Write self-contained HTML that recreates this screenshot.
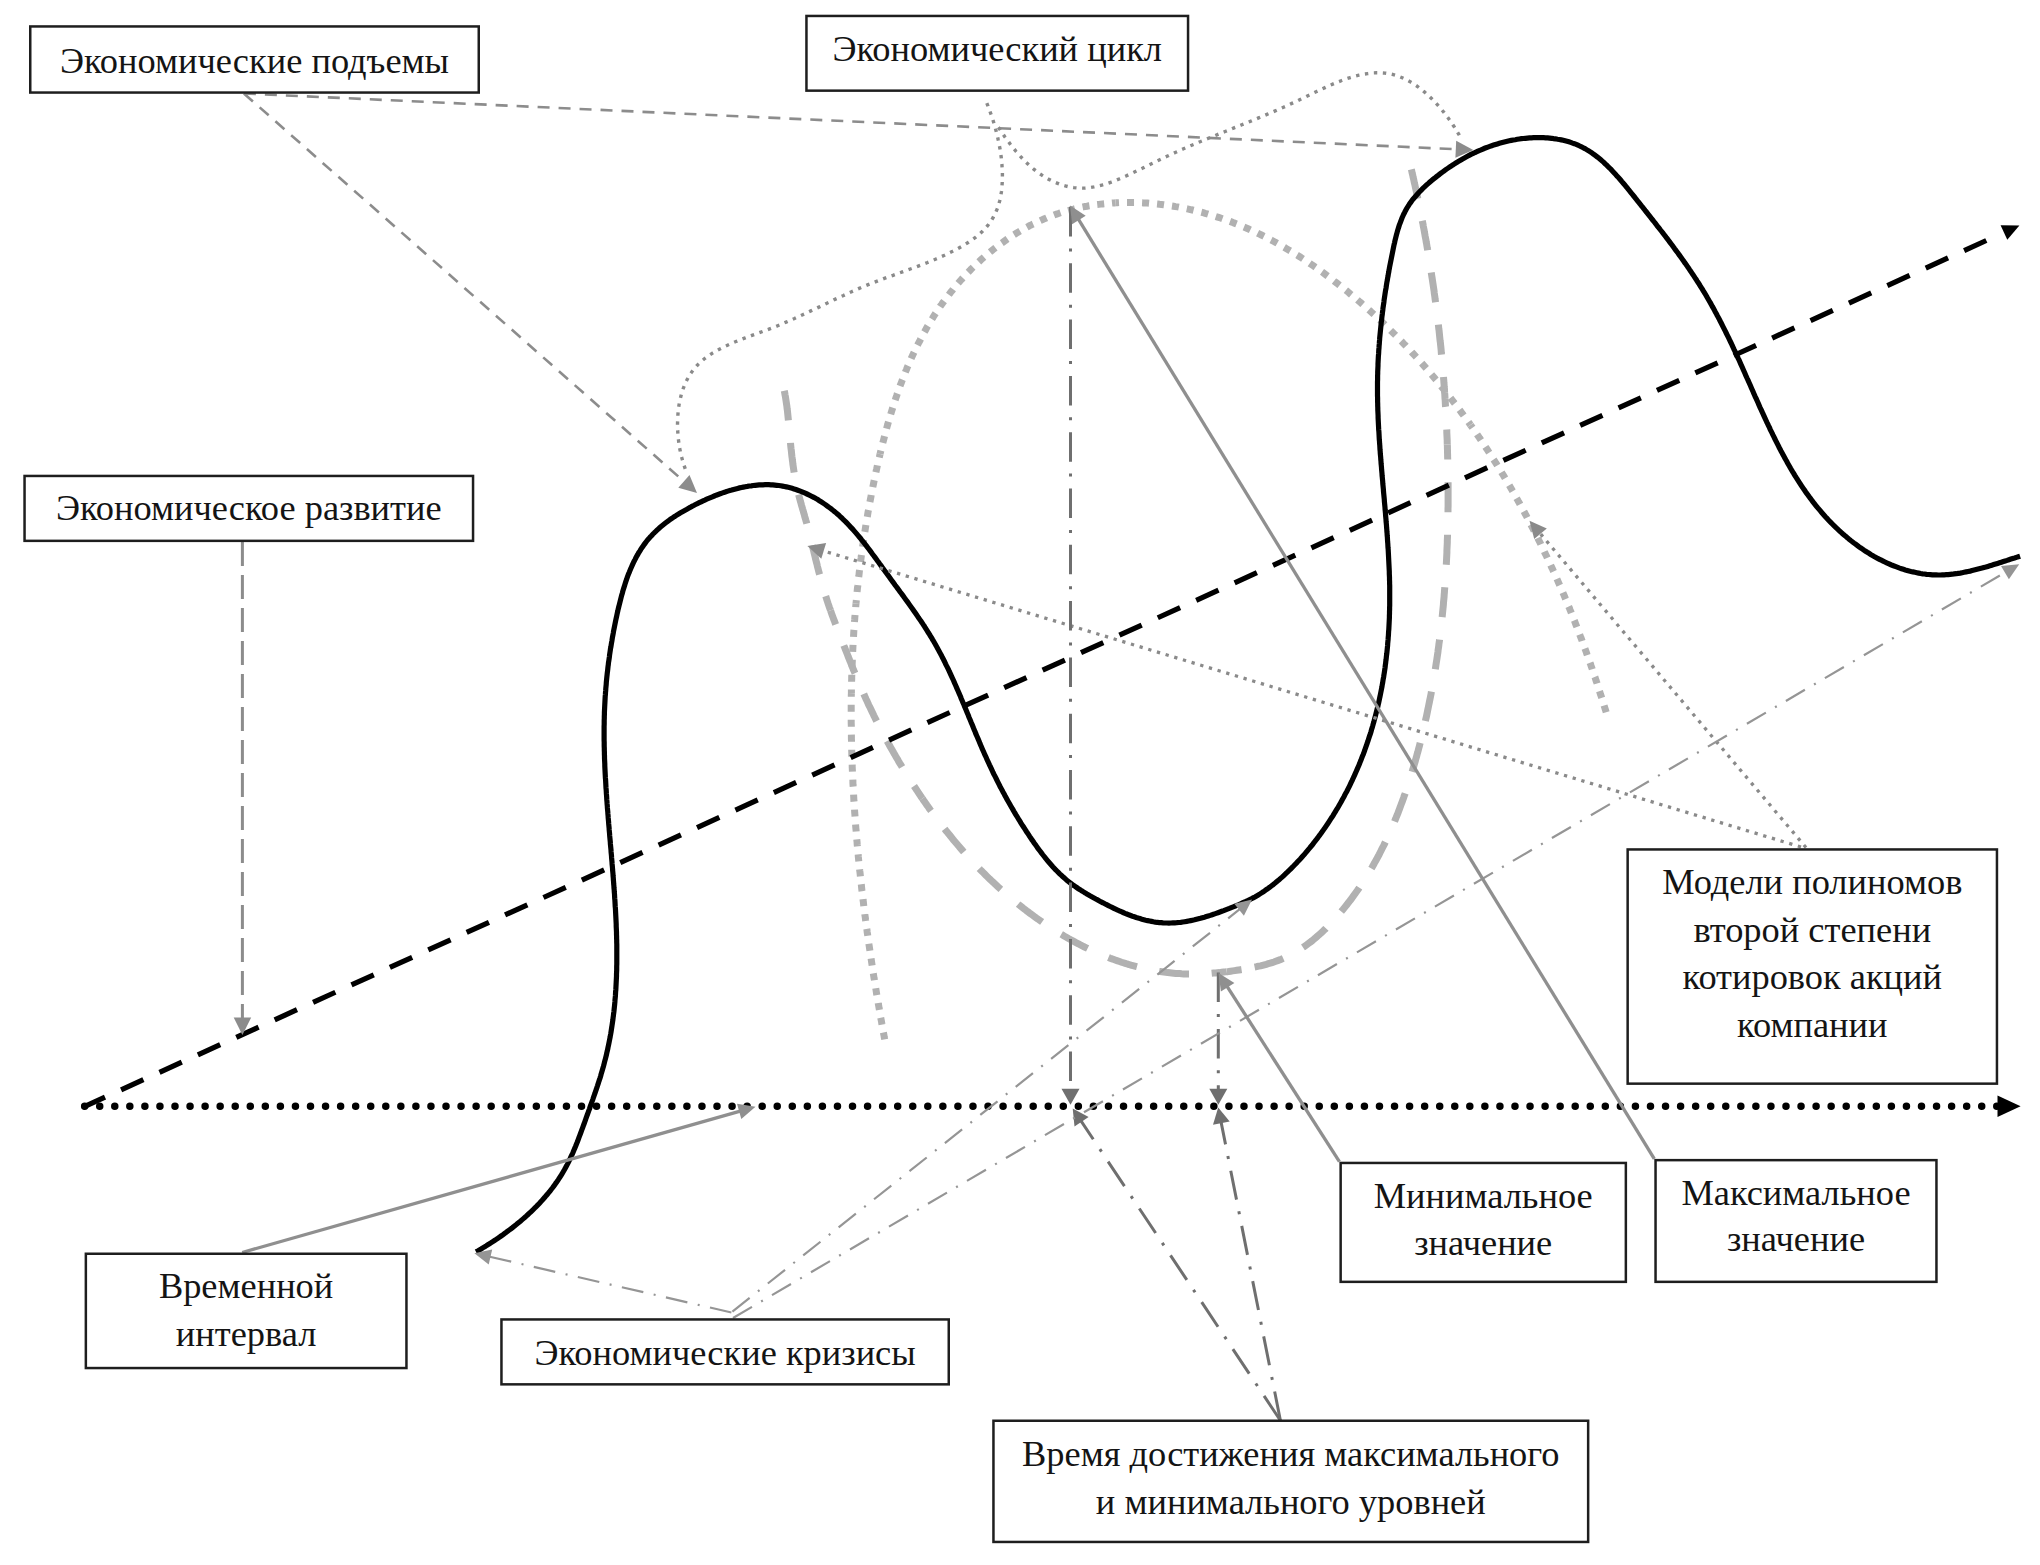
<!DOCTYPE html>
<html><head><meta charset="utf-8"><style>
html,body{margin:0;padding:0;background:#fff;}
svg{display:block;}
text{font-family:"Liberation Serif",serif;font-size:36.4px;fill:#141414;}
</style></head><body>
<svg width="2040" height="1565" viewBox="0 0 2040 1565">
<rect width="2040" height="1565" fill="#fff"/>
<path d="M884.7,1039.4 L884.3,1037.5 L884.0,1035.5 L883.6,1033.5 L883.2,1031.5 L882.9,1029.5 L882.5,1027.5 L882.2,1025.6 L881.8,1023.6 L881.5,1021.6 L881.1,1019.6 L880.7,1017.6 L880.4,1015.6 L880.0,1013.6 L879.7,1011.7 L879.4,1009.7 L879.0,1007.7 L878.7,1005.7 L878.3,1003.7 L878.0,1001.7 L877.6,999.7 L877.3,997.8 L877.0,995.8 L876.6,993.8 L876.3,991.8 L876.0,989.8 L875.7,987.8 L875.3,985.8 L875.0,983.9 L874.7,981.9 L874.4,979.9 L874.0,977.9 L873.7,975.9 L873.4,973.9 L873.1,971.9 L872.8,969.9 L872.5,968.0 L872.2,966.0 L871.9,964.0 L871.6,962.0 L871.3,960.0 L871.0,958.0 L870.7,956.0 L870.4,954.0 L870.1,952.1 L869.8,950.1 L869.5,948.1 L869.2,946.1 L868.9,944.1 L868.6,942.1 L868.3,940.1 L868.1,938.1 L867.8,936.1 L867.5,934.1 L867.2,932.2 L867.0,930.2 L866.7,928.2 L866.4,926.2 L866.2,924.2 L865.9,922.2 L865.6,920.2 L865.4,918.2 L865.1,916.2 L864.8,914.2 L864.6,912.3 L864.3,910.3 L864.1,908.3 L863.8,906.3 L863.6,904.3 L863.4,902.3 L863.1,900.3 L862.9,898.3 L862.6,896.3 L862.4,894.3 L862.2,892.4 L861.9,890.4 L861.7,888.4 L861.5,886.4 L861.3,884.4 L861.0,882.4 L860.8,880.4 L860.6,878.4 L860.4,876.4 L860.2,874.4 L860.0,872.4 L859.7,870.4 L859.5,868.5 L859.3,866.5 L859.1,864.5 L858.9,862.5 L858.7,860.5 L858.5,858.5 L858.3,856.5 L858.2,854.5 L858.0,852.5 L857.8,850.5 L857.6,848.5 L857.4,846.5 L857.2,844.5 L857.1,842.6 L856.9,840.6 L856.7,838.6 L856.6,836.6 L856.4,834.6 L856.2,832.6 L856.1,830.6 L855.9,828.6 L855.7,826.6 L855.6,824.6 L855.4,822.6 L855.3,820.6 L855.1,818.6 L855.0,816.7 L854.9,814.7 L854.7,812.7 L854.6,810.7 L854.5,808.7 L854.3,806.7 L854.2,804.7 L854.1,802.7 L853.9,800.7 L853.8,798.7 L853.7,796.7 L853.6,794.7 L853.5,792.7 L853.4,790.7 L853.3,788.8 L853.2,786.8 L853.0,784.8 L852.9,782.8 L852.9,780.8 L852.8,778.8 L852.7,776.8 L852.6,774.8 L852.5,772.8 L852.4,770.8 L852.3,768.8 L852.2,766.8 L852.2,764.8 L852.1,762.8 L852.0,760.9 L852.0,758.9 L851.9,756.9 L851.8,754.9 L851.8,752.9 L851.7,750.9 L851.7,748.9 L851.6,746.9 L851.6,744.9 L851.5,742.9 L851.5,740.9 L851.4,738.9 L851.4,736.9 L851.4,735.0 L851.3,733.0 L851.3,731.0 L851.3,729.0 L851.3,727.0 L851.3,725.0 L851.2,723.0 L851.2,721.0 L851.2,719.0 L851.2,717.0 L851.2,715.0 L851.2,713.0 L851.2,711.0 L851.2,709.1 L851.2,707.1 L851.2,705.1 L851.2,703.1 L851.3,701.1 L851.3,699.1 L851.3,697.1 L851.3,695.1 L851.4,693.1 L851.4,693.1" fill="none" stroke="#b1b1b1" stroke-width="7" stroke-dasharray="7 8.000" stroke-dashoffset="0.000"/>
<path d="M851.4,693.1 L851.4,691.1 L851.4,689.1 L851.5,687.2 L851.5,685.2 L851.6,683.2 L851.6,681.2 L851.7,679.2 L851.7,677.2 L851.8,675.2 L851.8,673.2 L851.9,671.2 L852.0,669.2 L852.0,667.2 L852.1,665.3 L852.2,663.3 L852.3,661.3 L852.3,659.3 L852.4,657.3 L852.5,655.3 L852.6,653.3 L852.7,651.3 L852.8,649.3 L852.9,647.3 L853.0,645.4 L853.1,643.4 L853.2,641.4 L853.3,639.4 L853.5,637.4 L853.6,635.4 L853.7,633.4 L853.8,631.4 L854.0,629.4 L854.1,627.5 L854.3,625.5 L854.4,623.5 L854.5,621.5 L854.7,619.5 L854.8,617.5 L855.0,615.5 L855.2,613.5 L855.3,611.6 L855.5,609.6 L855.7,607.6 L855.8,605.6 L856.0,603.6 L856.0,603.6" fill="none" stroke="#b1b1b1" stroke-width="7" stroke-dasharray="7 7.943" stroke-dashoffset="3.500"/>
<path d="M856.0,603.6 L856.2,601.6 L856.4,599.6 L856.6,597.6 L856.7,595.7 L856.9,593.7 L857.1,591.7 L857.3,589.7 L857.5,587.7 L857.8,585.7 L858.0,583.7 L858.2,581.8 L858.4,579.8 L858.6,577.8 L858.9,575.8 L859.1,573.8 L859.3,571.8 L859.6,569.8 L859.8,567.9 L860.0,565.9 L860.3,563.9 L860.5,561.9 L860.8,559.9 L861.1,557.9 L861.3,556.0 L861.6,554.0 L861.9,552.0 L862.1,550.0 L862.4,548.0 L862.7,546.0 L863.0,544.1 L863.3,542.1 L863.6,540.1 L863.8,538.1 L864.1,536.1 L864.5,534.1 L864.8,532.2 L865.1,530.2 L865.4,528.2 L865.7,526.2 L866.0,524.2 L866.4,522.3 L866.7,520.3 L867.0,518.3 L867.4,516.3 L867.7,514.3 L868.0,512.4 L868.4,510.4 L868.8,508.4 L869.1,506.4 L869.5,504.4 L869.8,502.5 L870.2,500.5 L870.6,498.5 L871.0,496.5 L871.3,494.5 L871.7,492.6 L872.1,490.6 L872.5,488.6 L872.9,486.6 L873.3,484.7 L873.7,482.7 L874.1,480.7 L874.5,478.7 L875.0,476.7 L875.4,474.8 L875.8,472.8 L876.2,470.8 L876.7,468.8 L877.1,466.9 L877.5,464.9 L878.0,462.9 L878.4,460.9 L878.9,459.0 L879.4,457.0 L879.8,455.0 L880.1,454.0" fill="none" stroke="#b1b1b1" stroke-width="7" stroke-dasharray="7 8.162" stroke-dashoffset="3.500"/>
<path d="M880.1,454.0 L880.5,452.1 L881.0,450.1 L881.5,448.1 L882.0,446.2 L882.5,444.2 L883.0,442.2 L883.5,440.3 L884.0,438.3 L884.5,436.3 L885.0,434.4 L885.5,432.4 L886.1,430.5 L886.6,428.5 L887.1,426.6 L887.7,424.6 L888.2,422.7 L888.8,420.7 L889.4,418.8 L889.9,416.8 L890.5,414.9 L891.1,412.9 L891.7,411.0 L892.3,409.1 L892.9,407.1 L893.5,405.2 L894.1,403.3 L894.8,401.4 L895.4,399.5 L896.0,397.5 L896.7,395.6 L897.3,393.7 L898.0,391.8 L898.7,389.9 L899.3,388.0 L900.0,386.1 L900.7,384.2 L901.4,382.4 L902.1,380.5 L902.9,378.6 L903.6,376.7 L904.3,374.9 L905.1,373.0 L905.8,371.1 L906.6,369.3 L907.3,367.4 L908.1,365.6 L908.9,363.7 L909.7,361.9 L910.5,360.1 L911.3,358.2 L912.1,356.4 L913.0,354.6 L913.8,352.8 L914.7,351.0 L915.5,349.2 L916.4,347.4 L917.3,345.6 L918.2,343.8 L919.1,342.0 L920.0,340.3 L920.9,338.5 L921.8,336.7 L922.8,335.0 L923.7,333.2 L924.7,331.5 L925.7,329.8 L926.6,328.0 L927.6,326.3 L928.6,324.6 L929.7,322.9 L930.7,321.2 L931.7,319.5 L932.8,317.8 L933.8,316.1 L934.9,314.4 L936.0,312.7 L937.1,311.1 L938.2,309.4 L939.3,307.8 L940.4,306.1 L941.6,304.5 L942.7,302.9 L943.9,301.3 L945.1,299.7 L946.2,298.1 L947.4,296.5 L948.7,294.9 L949.9,293.3 L951.1,291.7 L952.4,290.2 L953.6,288.6 L954.9,287.1 L956.2,285.6 L957.5,284.0 L958.8,282.5 L960.1,281.0 L961.4,279.5 L962.8,278.0 L964.1,276.6 L965.5,275.1 L966.8,273.6 L968.2,272.2 L969.6,270.8 L971.0,269.3 L972.4,267.9 L973.9,266.5 L975.3,265.1 L976.7,263.8 L978.2,262.4 L979.6,261.1 L981.1,259.7 L982.6,258.4 L984.1,257.1 L985.6,255.8 L987.1,254.5 L988.6,253.2 L990.2,251.9 L991.7,250.7 L993.3,249.4 L994.8,248.2 L996.4,247.0 L998.0,245.8 L999.6,244.6 L1001.2,243.4 L1002.8,242.3 L1004.4,241.1 L1006.0,240.0 L1007.6,238.9 L1009.3,237.8 L1010.9,236.7 L1012.6,235.6 L1014.3,234.6 L1015.9,233.5 L1017.6,232.5 L1019.3,231.5 L1021.0,230.5 L1022.7,229.5 L1024.5,228.5 L1026.2,227.6 L1027.9,226.7 L1029.6,225.7 L1031.4,224.8 L1033.2,224.0 L1034.9,223.1 L1036.7,222.3 L1038.5,221.4 L1040.3,220.6 L1042.0,219.8 L1043.8,219.0 L1045.7,218.3 L1047.5,217.5 L1049.3,216.8 L1051.1,216.1 L1053.0,215.4 L1054.8,214.7 L1056.6,214.1 L1058.5,213.5 L1060.4,212.8 L1062.2,212.2 L1064.1,211.7 L1066.0,211.1 L1067.9,210.6 L1069.8,210.1 L1071.7,209.5 L1073.6,209.1 L1075.5,208.6 L1077.4,208.1 L1079.3,207.7 L1081.2,207.3 L1083.2,206.9 L1085.1,206.5 L1087.0,206.2 L1089.0,205.8 L1090.9,205.5 L1092.9,205.2 L1094.8,204.9 L1096.8,204.6 L1098.7,204.4 L1100.7,204.1 L1102.7,203.9 L1104.6,203.7 L1106.6,203.5 L1108.6,203.3 L1110.6,203.2 L1112.5,203.0 L1114.5,202.9 L1115.5,202.8" fill="none" stroke="#b1b1b1" stroke-width="7" stroke-dasharray="7 7.861" stroke-dashoffset="3.500"/>
<path d="M1115.5,202.8 L1117.5,202.7 L1119.5,202.6 L1121.5,202.6 L1123.5,202.5 L1125.5,202.5 L1127.5,202.5 L1129.5,202.5 L1131.5,202.5 L1133.5,202.5 L1135.5,202.5 L1137.5,202.6 L1139.5,202.7 L1141.5,202.8 L1143.5,202.9 L1145.5,203.0 L1147.5,203.1 L1149.5,203.3 L1151.5,203.4 L1153.5,203.6 L1155.5,203.8 L1157.5,204.0 L1159.5,204.3 L1161.5,204.5 L1163.5,204.7 L1165.6,205.0 L1167.5,205.3 L1169.5,205.6 L1171.5,205.9 L1173.5,206.2 L1175.5,206.6 L1177.5,206.9 L1179.5,207.3 L1181.5,207.7 L1183.5,208.1 L1185.5,208.5 L1187.4,208.9 L1189.4,209.3 L1191.4,209.8 L1193.4,210.2 L1195.3,210.7 L1197.3,211.2 L1199.3,211.7 L1201.2,212.2 L1203.2,212.7 L1205.1,213.3 L1207.1,213.8 L1209.0,214.4 L1210.9,215.0 L1212.9,215.6 L1214.8,216.2 L1216.7,216.8 L1218.6,217.4 L1220.6,218.0 L1222.5,218.7 L1224.4,219.4 L1226.3,220.0 L1228.2,220.7 L1230.0,221.4 L1231.9,222.1 L1233.8,222.9 L1235.7,223.6 L1237.5,224.3 L1239.4,225.1 L1241.3,225.9 L1243.1,226.6 L1245.0,227.4 L1246.8,228.2 L1248.6,229.0 L1250.5,229.9 L1252.3,230.7 L1254.1,231.5 L1256.0,232.4 L1257.8,233.3 L1259.6,234.1 L1261.4,235.0 L1263.2,235.9 L1265.0,236.8 L1266.8,237.7 L1268.5,238.7 L1270.3,239.6 L1272.1,240.5 L1273.9,241.5 L1275.6,242.4 L1277.4,243.4 L1279.1,244.4 L1280.9,245.4 L1282.6,246.4 L1284.4,247.4 L1286.1,248.4 L1287.8,249.4 L1289.6,250.5 L1291.3,251.5 L1293.0,252.5 L1294.7,253.6 L1296.4,254.7 L1298.1,255.7 L1299.8,256.8 L1301.5,257.9 L1303.2,259.0 L1304.9,260.1 L1306.6,261.2 L1308.2,262.3 L1309.9,263.5 L1311.6,264.6 L1313.2,265.7 L1314.9,266.9 L1316.5,268.0 L1318.2,269.2 L1319.8,270.4 L1321.4,271.5 L1323.1,272.7 L1324.7,273.9 L1326.3,275.1 L1327.9,276.3 L1329.5,277.5 L1331.1,278.7 L1332.7,279.9 L1334.3,281.2 L1335.9,282.4 L1337.5,283.6 L1339.1,284.9 L1340.7,286.1 L1342.3,287.4 L1343.8,288.6 L1345.4,289.9 L1346.9,291.1 L1348.5,292.4 L1350.0,293.7 L1351.6,295.0 L1353.1,296.2 L1354.7,297.5 L1356.2,298.8 L1357.7,300.1 L1359.2,301.4 L1360.8,302.7 L1362.3,304.1 L1363.8,305.4 L1365.3,306.7 L1366.8,308.0 L1368.3,309.4 L1369.8,310.7 L1371.2,312.0 L1372.7,313.4 L1374.2,314.7 L1375.7,316.1 L1377.1,317.4 L1378.6,318.8 L1380.1,320.2 L1381.5,321.5 L1383.0,322.9 L1384.4,324.3 L1385.8,325.7 L1387.3,327.1 L1388.7,328.5 L1390.1,329.9 L1391.5,331.3 L1393.0,332.7 L1394.4,334.1 L1395.8,335.5 L1397.2,336.9 L1398.6,338.3 L1400.0,339.8 L1401.4,341.2 L1402.7,342.6 L1404.1,344.1 L1405.5,345.5 L1406.9,347.0 L1408.2,348.4 L1409.6,349.9 L1411.0,351.3 L1412.3,352.8 L1413.7,354.2 L1415.0,355.7 L1416.4,357.2 L1417.7,358.7 L1419.0,360.2 L1420.3,361.6 L1421.7,363.1 L1423.0,364.6 L1424.3,366.1 L1425.6,367.6 L1426.9,369.1 L1428.2,370.6 L1429.5,372.2 L1430.8,373.7 L1432.1,375.2 L1433.4,376.7 L1434.7,378.3 L1435.9,379.8 L1437.2,381.3 L1438.5,382.9 L1439.7,384.4 L1441.0,385.9 L1442.2,387.5 L1443.5,389.1 L1444.7,390.6 L1446.0,392.2 L1447.2,393.7 L1448.4,395.3 L1449.7,396.9 L1450.9,398.4 L1452.1,400.0 L1453.3,401.6 L1454.5,403.2 L1455.8,404.8 L1457.0,406.4 L1458.2,408.0 L1459.3,409.6 L1460.5,411.2 L1461.7,412.8 L1462.9,414.4 L1464.1,416.0 L1465.3,417.6 L1466.4,419.2 L1467.6,420.8 L1468.8,422.5 L1469.9,424.1 L1470.5,424.9" fill="none" stroke="#b1b1b1" stroke-width="7" stroke-dasharray="7 8.042" stroke-dashoffset="3.500"/>
<path d="M1470.5,424.9 L1471.6,426.5 L1472.8,428.2 L1473.9,429.8 L1475.1,431.5 L1476.2,433.1 L1477.3,434.7 L1478.5,436.4 L1479.6,438.1 L1480.7,439.7 L1481.8,441.4 L1482.9,443.0 L1484.0,444.7 L1485.1,446.4 L1486.2,448.0 L1487.3,449.7 L1488.4,451.4 L1489.5,453.1 L1490.6,454.7 L1491.7,456.4 L1492.7,458.1 L1493.8,459.8 L1494.9,461.5 L1495.9,463.2 L1497.0,464.9 L1498.0,466.6 L1499.1,468.3 L1500.1,470.0 L1501.2,471.7 L1502.2,473.4 L1503.2,475.1 L1504.3,476.9 L1505.3,478.6 L1506.3,480.3 L1507.3,482.0 L1508.4,483.8 L1509.4,485.5 L1510.4,487.2 L1511.4,488.9 L1512.4,490.7 L1513.4,492.4 L1514.4,494.2 L1515.4,495.9 L1516.3,497.7 L1517.3,499.4 L1518.3,501.2 L1519.3,502.9 L1520.2,504.7 L1521.2,506.4 L1522.2,508.2 L1523.1,509.9 L1524.1,511.7 L1525.0,513.5 L1526.0,515.2 L1526.9,517.0 L1527.8,518.8 L1528.8,520.6 L1529.7,522.3 L1530.6,524.1 L1531.5,525.9 L1532.5,527.7 L1533.4,529.5 L1534.3,531.3 L1535.2,533.1 L1536.1,534.8 L1537.0,536.6 L1537.9,538.4 L1538.8,540.2 L1539.7,542.0 L1540.6,543.8 L1541.4,545.6 L1542.3,547.4 L1543.2,549.2 L1544.1,551.1 L1544.9,552.9 L1545.8,554.7 L1546.7,556.5 L1547.5,558.3 L1548.4,560.1 L1549.2,561.9 L1550.1,563.8 L1550.9,565.6 L1551.7,567.4 L1552.6,569.2 L1553.4,571.1 L1554.2,572.9 L1555.1,574.7 L1555.9,576.5 L1556.7,578.4 L1557.5,580.2 L1558.3,582.1 L1559.1,583.9 L1559.9,585.7 L1560.7,587.6 L1561.5,589.4 L1562.3,591.3 L1563.1,593.1 L1563.9,594.9 L1564.7,596.8 L1565.4,598.6 L1566.2,600.5 L1567.0,602.3 L1567.7,604.2 L1568.5,606.1 L1569.3,607.9 L1570.0,609.8 L1570.8,611.6 L1571.5,613.5 L1572.3,615.3 L1573.0,617.2 L1573.7,619.1 L1574.5,620.9 L1575.2,622.8 L1575.9,624.7 L1576.7,626.5 L1577.4,628.4 L1578.1,630.3 L1578.8,632.1 L1579.5,634.0 L1580.2,635.9 L1580.9,637.7 L1581.7,639.6 L1582.3,641.5 L1583.0,643.4 L1583.7,645.2 L1584.4,647.1 L1585.1,649.0 L1585.8,650.9 L1586.5,652.8 L1587.1,654.6 L1587.8,656.5 L1588.5,658.4 L1589.1,660.3 L1589.8,662.2 L1590.5,664.0 L1591.1,665.9 L1591.8,667.8 L1592.4,669.7 L1593.1,671.6 L1593.7,673.5 L1594.3,675.4 L1595.0,677.2 L1595.6,679.1 L1596.2,681.0 L1596.9,682.9 L1597.5,684.8 L1598.1,686.7 L1598.7,688.6 L1599.3,690.5 L1599.9,692.4 L1600.5,694.3 L1601.2,696.2 L1601.8,698.0 L1602.3,699.9 L1602.9,701.8 L1603.5,703.7 L1604.1,705.6 L1604.7,707.5 L1605.3,709.4 L1605.9,711.3 L1606.2,712.3" fill="none" stroke="#b1b1b1" stroke-width="7" stroke-dasharray="7 8.029" stroke-dashoffset="3.500"/>
<path d="M784.3,390.7 L784.7,392.7 L785.0,394.6 L785.4,396.6 L785.7,398.6 L786.0,400.5 L786.3,402.5 L786.6,404.5 L786.9,406.5 L787.1,408.5 L787.4,410.5 L787.6,412.4 L787.8,414.4 L788.0,416.4 L788.2,418.4 L788.4,420.4 L788.6,422.4 L788.8,424.4 L789.0,426.4 L789.2,428.4 L789.4,430.4 L789.5,432.4 L789.7,434.4 L789.9,436.4 L790.1,438.4 L790.3,440.4 L790.5,442.4 L790.6,444.4 L790.8,446.4 L791.0,448.4 L791.3,450.4 L791.5,452.4 L791.7,454.4 L791.9,456.4 L792.2,458.4 L792.4,460.4 L792.7,462.3 L792.9,464.3 L793.2,466.3 L793.5,468.3 L793.8,470.2 L794.1,472.2 L794.4,474.2 L794.8,476.1 L795.1,478.1 L795.5,480.1 L795.9,482.0 L796.2,484.0 L796.6,485.9 L797.1,487.9 L797.5,489.8 L798.0,491.7 L798.4,493.7 L798.9,495.6 L799.4,497.5 L799.9,499.4 L800.4,501.4 L801.0,503.3 L801.5,505.2 L802.1,507.1 L802.6,509.0 L803.2,510.9 L803.7,512.8 L804.3,514.7 L804.8,516.7 L805.4,518.6 L805.9,520.5 L806.5,522.4 L807.0,524.3 L807.5,526.2 L808.0,528.1 L808.5,530.0 L809.0,532.0 L809.5,533.9 L810.0,535.8 L810.4,537.7 L810.9,539.6 L811.4,541.5 L811.8,543.5 L812.3,545.4 L812.8,547.3 L813.2,549.2 L813.7,551.1 L814.1,553.0 L814.6,554.9 L815.1,556.8 L815.5,558.7 L816.0,560.6 L816.5,562.5 L817.0,564.4 L817.4,566.3 L817.9,568.2 L818.4,570.1 L818.9,572.0 L819.4,573.9 L819.9,575.8 L820.4,577.6 L820.9,579.5 L821.4,581.4 L821.9,583.3 L822.5,585.2 L823.0,587.1 L823.5,588.9 L824.1,590.8 L824.7,592.7 L825.2,594.6 L825.8,596.4 L826.4,598.3 L827.0,600.2 L827.6,602.0 L828.2,603.9 L828.9,605.8 L829.5,607.6 L830.2,609.5 L830.5,610.4" fill="none" stroke="#b1b1b1" stroke-width="7" stroke-dasharray="30 22.542" stroke-dashoffset="0.000"/>
<path d="M830.5,610.4 L831.2,612.3 L831.8,614.2 L832.5,616.0 L833.2,617.9 L833.9,619.8 L834.6,621.6 L835.3,623.5 L836.0,625.3 L836.7,627.2 L837.4,629.1 L838.1,630.9 L838.8,632.8 L839.6,634.6 L840.3,636.5 L841.0,638.3 L841.7,640.2 L842.5,642.1 L843.2,643.9 L843.9,645.8 L844.7,647.6 L845.4,649.5 L846.1,651.3 L846.9,653.2 L847.6,655.0 L848.3,656.9 L849.1,658.8 L849.8,660.6 L850.6,662.5 L851.3,664.3 L852.0,666.2 L852.8,668.0 L853.5,669.9 L854.3,671.7 L855.1,673.5 L855.8,675.4 L856.6,677.2 L857.3,679.1 L858.1,680.9 L858.9,682.7 L859.7,684.6 L860.5,686.4 L861.3,688.3 L862.0,690.1 L862.8,691.9 L863.7,693.7 L864.5,695.6 L865.3,697.4 L866.1,699.2 L867.0,701.0 L867.8,702.8 L868.6,704.7 L869.5,706.5 L870.4,708.3 L871.2,710.1 L872.1,711.9 L873.0,713.7 L873.8,715.5 L874.7,717.3 L875.6,719.1 L876.5,720.9 L877.4,722.7 L878.3,724.5 L879.3,726.2 L880.2,728.0 L881.1,729.8 L882.0,731.6 L883.0,733.4 L883.9,735.1 L884.9,736.9 L885.8,738.7 L886.8,740.4 L887.8,742.2 L888.7,743.9 L889.7,745.7 L890.7,747.5 L891.7,749.2 L892.7,750.9 L893.7,752.7 L894.7,754.4 L895.7,756.2 L896.7,757.9 L897.7,759.6 L898.7,761.4 L899.7,763.1 L900.8,764.8 L901.8,766.5 L902.8,768.2 L903.9,770.0 L904.9,771.7 L906.0,773.4 L907.0,775.1 L908.1,776.8 L909.2,778.5 L910.2,780.2 L911.3,781.9 L912.4,783.5 L913.5,785.2 L914.6,786.9 L915.7,788.6 L916.8,790.2 L917.9,791.9 L919.0,793.6 L920.1,795.2 L921.2,796.9 L922.4,798.5 L922.4,798.5" fill="none" stroke="#b1b1b1" stroke-width="7" stroke-dasharray="30 22.487" stroke-dashoffset="15.000"/>
<path d="M922.4,798.5 L923.5,800.2 L924.6,801.8 L925.8,803.5 L926.9,805.1 L928.1,806.7 L929.2,808.4 L930.4,810.0 L931.6,811.6 L932.7,813.2 L933.9,814.8 L935.1,816.4 L936.3,818.0 L937.5,819.6 L938.7,821.2 L939.9,822.8 L941.1,824.4 L942.3,826.0 L943.5,827.5 L944.8,829.1 L946.0,830.7 L947.3,832.2 L948.5,833.8 L949.8,835.3 L951.0,836.9 L952.3,838.4 L953.5,840.0 L954.8,841.5 L956.1,843.0 L957.4,844.5 L958.7,846.1 L960.0,847.6 L961.3,849.1 L962.6,850.6 L963.9,852.1 L965.2,853.5 L966.5,855.0 L967.9,856.5 L969.2,858.0 L970.6,859.4 L971.9,860.9 L973.3,862.4 L974.6,863.8 L976.0,865.3 L977.4,866.7 L978.8,868.1 L980.2,869.6 L981.6,871.0 L983.0,872.4 L984.4,873.8 L985.8,875.2 L987.2,876.6 L988.6,878.0 L990.1,879.4 L991.5,880.7 L993.0,882.1 L994.4,883.5 L995.9,884.8 L997.3,886.2 L998.8,887.5 L1000.3,888.9 L1001.8,890.2 L1003.3,891.6 L1004.8,892.9 L1006.3,894.2 L1007.8,895.5 L1009.3,896.8 L1010.9,898.1 L1012.4,899.4 L1013.9,900.7 L1015.5,901.9 L1017.0,903.2 L1018.6,904.5 L1020.2,905.7 L1021.8,907.0 L1023.3,908.2 L1024.9,909.4 L1026.5,910.7 L1028.1,911.9 L1029.7,913.1 L1031.4,914.3 L1033.0,915.5 L1034.6,916.7 L1036.2,917.9 L1037.9,919.0 L1039.5,920.2 L1041.2,921.3 L1042.9,922.5 L1044.5,923.6 L1046.2,924.7 L1047.9,925.9 L1049.6,927.0 L1051.3,928.1 L1053.0,929.1 L1054.7,930.2 L1056.4,931.3 L1058.1,932.4 L1059.8,933.4 L1061.6,934.4 L1063.3,935.5 L1065.0,936.5 L1066.8,937.5 L1068.5,938.5 L1070.3,939.5 L1072.0,940.5 L1073.8,941.4 L1075.6,942.4 L1077.4,943.3 L1079.1,944.2 L1080.9,945.2 L1082.7,946.1 L1084.5,947.0 L1086.3,947.8 L1088.1,948.7 L1089.9,949.6 L1091.8,950.4 L1093.6,951.2 L1095.4,952.1 L1097.2,952.9 L1099.1,953.7 L1100.9,954.5 L1102.8,955.2 L1104.6,956.0 L1106.5,956.7 L1108.3,957.4 L1110.2,958.2 L1112.1,958.9 L1113.9,959.5 L1115.8,960.2 L1117.7,960.9 L1119.6,961.5 L1121.5,962.2 L1123.3,962.8 L1125.2,963.4 L1127.1,964.0 L1129.0,964.5 L1130.9,965.1 L1132.9,965.6 L1134.8,966.1 L1136.7,966.6 L1138.6,967.1 L1140.5,967.6 L1142.5,968.1 L1144.4,968.5 L1146.3,969.0 L1148.3,969.4 L1150.2,969.8 L1152.1,970.1 L1154.1,970.5 L1156.0,970.9 L1158.0,971.2 L1159.9,971.5 L1161.9,971.8 L1163.9,972.1 L1165.8,972.3 L1167.8,972.6 L1169.8,972.8 L1171.7,973.0 L1173.7,973.2 L1175.7,973.4 L1177.7,973.5 L1179.6,973.6 L1181.6,973.8 L1183.6,973.9 L1185.6,973.9 L1187.6,974.0 L1189.6,974.0 L1191.6,974.1 L1193.6,974.1 L1195.6,974.0 L1197.6,974.0 L1199.6,974.0 L1201.6,973.9 L1203.6,973.8 L1205.6,973.7 L1207.6,973.6 L1209.6,973.4 L1211.6,973.3 L1213.6,973.1 L1215.6,973.0 L1217.6,972.8 L1219.6,972.6 L1221.7,972.3 L1223.7,972.1 L1225.7,971.9 L1226.7,971.7" fill="none" stroke="#b1b1b1" stroke-width="7" stroke-dasharray="30 22.686" stroke-dashoffset="15.000"/>
<path d="M1226.7,971.7 L1228.7,971.5 L1230.7,971.2 L1232.7,970.9 L1234.7,970.6 L1236.7,970.3 L1238.7,970.0 L1240.7,969.7 L1242.7,969.4 L1244.7,969.0 L1246.7,968.7 L1248.7,968.3 L1250.7,967.9 L1252.6,967.5 L1254.6,967.1 L1254.6,967.1" fill="none" stroke="#b1b1b1" stroke-width="7" stroke-dasharray="30 13.338" stroke-dashoffset="15.000"/>
<path d="M1254.6,967.1 L1256.6,966.7 L1258.6,966.2 L1260.5,965.8 L1262.5,965.3 L1264.4,964.8 L1266.3,964.3 L1268.3,963.7 L1270.2,963.2 L1272.1,962.6 L1274.0,962.0 L1275.8,961.3 L1277.7,960.6 L1279.6,959.9 L1281.4,959.2 L1283.2,958.4 L1285.0,957.6 L1286.8,956.8 L1288.6,955.9 L1290.3,955.0 L1292.1,954.1 L1293.8,953.1 L1295.5,952.2 L1297.2,951.1 L1298.9,950.1 L1300.6,949.0 L1302.2,947.9 L1303.9,946.8 L1305.5,945.7 L1307.1,944.5 L1308.7,943.3 L1310.3,942.1 L1311.9,940.9 L1313.4,939.6 L1315.0,938.3 L1316.5,937.0 L1318.0,935.7 L1319.5,934.4 L1321.0,933.0 L1322.5,931.7 L1323.9,930.3 L1325.4,928.9 L1326.8,927.4 L1328.2,926.0 L1329.6,924.6 L1331.0,923.1 L1332.4,921.6 L1333.8,920.1 L1335.1,918.6 L1336.5,917.1 L1337.8,915.6 L1339.1,914.1 L1340.4,912.6 L1341.7,911.0 L1343.0,909.5 L1344.3,907.9 L1345.5,906.4 L1346.8,904.8 L1348.0,903.2 L1349.2,901.6 L1350.5,900.0 L1351.7,898.4 L1352.8,896.8 L1354.0,895.2 L1355.2,893.6 L1356.3,891.9 L1357.5,890.3 L1358.6,888.7 L1359.7,887.0 L1360.9,885.4 L1362.0,883.7 L1363.0,882.0 L1364.1,880.4 L1365.2,878.7 L1366.2,877.0 L1367.3,875.3 L1368.3,873.6 L1369.4,871.9 L1370.4,870.2 L1371.4,868.5 L1372.4,866.8 L1373.4,865.0 L1374.3,863.3 L1375.3,861.6 L1376.3,859.8 L1377.2,858.1 L1378.2,856.3 L1379.1,854.6 L1380.0,852.8 L1380.9,851.0 L1381.8,849.2 L1382.7,847.5 L1383.6,845.7 L1384.5,843.9 L1385.3,842.1 L1386.2,840.3 L1387.0,838.5 L1387.9,836.7 L1388.7,834.9 L1389.5,833.1 L1390.3,831.3 L1391.1,829.4 L1391.9,827.6 L1392.7,825.8 L1393.5,824.0 L1394.3,822.1 L1395.0,820.3 L1395.8,818.4 L1396.5,816.6 L1397.3,814.7 L1398.0,812.9 L1398.7,811.0 L1399.4,809.2 L1400.1,807.3 L1400.8,805.4 L1401.5,803.6 L1402.2,801.7 L1402.9,799.8 L1403.6,797.9 L1404.2,796.0 L1404.9,794.2 L1405.6,792.3 L1406.2,790.4 L1406.8,788.5 L1407.5,786.6 L1408.1,784.7 L1408.7,782.8 L1409.3,780.9 L1409.9,779.0 L1410.5,777.1 L1411.1,775.2 L1411.7,773.3 L1412.3,771.3 L1412.9,769.4 L1413.4,767.5 L1414.0,765.6 L1414.5,763.7 L1415.1,761.7 L1415.6,759.8 L1416.2,757.9 L1416.7,756.0 L1417.2,754.0 L1417.8,752.1 L1418.3,750.2 L1418.8,748.2 L1419.3,746.3 L1419.8,744.4 L1420.3,742.4 L1420.8,740.5 L1421.3,738.6 L1421.7,736.6 L1422.2,734.7 L1422.7,732.7 L1423.1,730.8 L1423.6,728.8 L1424.1,726.9 L1424.5,724.9 L1425.0,723.0 L1425.4,721.0 L1425.8,719.1 L1426.3,717.1 L1426.7,715.2 L1427.1,713.2 L1427.5,711.3 L1427.9,709.3 L1428.3,707.4 L1428.7,705.4 L1429.1,703.5 L1429.5,701.5 L1429.9,699.5 L1430.3,697.6 L1430.7,695.6 L1431.1,693.7 L1431.4,691.7 L1431.8,689.7 L1432.1,687.8 L1432.5,685.8 L1432.9,683.8 L1433.2,681.9 L1433.5,679.9 L1433.9,677.9 L1434.2,675.9 L1434.5,674.0 L1434.9,672.0 L1435.2,670.0 L1435.5,668.1 L1435.8,666.1 L1436.1,664.1 L1436.4,662.1 L1436.7,660.2 L1437.0,658.2 L1437.3,656.2 L1437.6,654.2 L1437.9,652.2 L1438.1,650.3 L1438.4,648.3 L1438.7,646.3 L1438.9,644.3 L1439.2,642.3 L1439.5,640.4 L1439.7,638.4 L1440.0,636.4 L1440.2,634.4 L1440.4,632.4 L1440.7,630.4 L1440.9,628.4 L1441.1,626.5 L1441.3,624.5 L1441.6,622.5 L1441.8,620.5 L1442.0,618.5 L1442.2,616.5 L1442.4,614.5 L1442.6,612.5 L1442.8,610.5 L1443.0,608.5 L1443.2,606.6 L1443.4,604.6 L1443.5,602.6 L1443.7,600.6 L1443.9,598.6 L1444.1,596.6 L1444.2,594.6 L1444.4,592.6 L1444.5,590.6 L1444.7,588.6 L1444.8,586.6 L1445.0,584.6 L1445.1,582.6 L1445.3,580.6 L1445.4,578.6 L1445.5,576.6 L1445.7,574.6 L1445.8,572.6 L1445.9,570.6 L1446.0,568.6 L1446.1,566.6 L1446.3,564.6 L1446.4,562.6 L1446.5,560.6 L1446.6,558.6 L1446.7,556.6 L1446.8,554.6 L1446.9,552.6 L1446.9,550.6 L1447.0,548.6 L1447.1,546.6 L1447.2,544.6 L1447.3,542.6 L1447.3,540.6 L1447.4,538.6 L1447.5,536.6 L1447.5,534.6 L1447.6,532.6 L1447.6,530.6 L1447.7,528.6 L1447.7,526.6 L1447.8,524.6 L1447.8,522.6 L1447.9,520.6 L1447.9,518.6 L1447.9,516.6 L1448.0,514.6 L1448.0,512.5 L1448.0,510.5 L1448.0,508.5 L1448.1,506.5 L1448.1,504.5 L1448.1,502.5 L1448.1,500.5 L1448.1,498.5 L1448.1,496.5 L1448.1,494.5 L1448.1,492.5 L1448.1,490.5 L1448.1,488.5 L1448.1,486.5 L1448.1,484.5 L1448.1,482.5 L1448.1,480.5 L1448.0,478.5 L1448.0,476.5 L1448.0,474.5 L1448.0,472.5 L1447.9,470.5 L1447.9,468.5 L1447.9,466.5 L1447.8,464.5 L1447.8,462.5 L1447.7,460.5 L1447.7,458.5 L1447.6,456.5 L1447.6,454.5 L1447.5,452.5 L1447.5,450.5 L1447.4,448.5 L1447.4,446.5 L1447.3,444.5 L1447.3,444.5" fill="none" stroke="#b1b1b1" stroke-width="7" stroke-dasharray="30 22.605" stroke-dashoffset="0.000"/>
<path d="M1447.3,444.5 L1447.2,442.5 L1447.2,440.5 L1447.1,438.5 L1447.0,436.5 L1446.9,434.5 L1446.8,432.5 L1446.8,430.5 L1446.7,428.5 L1446.6,426.5 L1446.5,424.5 L1446.4,422.5 L1446.3,420.5 L1446.2,418.5 L1446.1,416.5 L1446.0,414.5 L1445.9,412.5 L1445.8,410.5 L1445.7,408.5 L1445.5,406.5 L1445.4,404.5 L1445.3,402.5 L1445.2,400.5 L1445.0,398.5 L1444.9,396.5 L1444.8,394.5 L1444.6,392.5 L1444.5,390.5 L1444.4,388.6 L1444.2,386.6 L1444.1,384.6 L1443.9,382.6 L1443.8,380.6 L1443.6,378.6 L1443.5,376.6 L1443.3,374.6 L1443.1,372.6 L1443.0,370.6 L1442.8,368.6 L1442.6,366.6 L1442.5,364.6 L1442.3,362.7 L1442.1,360.7 L1441.9,358.7 L1441.7,356.7 L1441.5,354.7 L1441.3,352.7 L1441.2,350.7 L1441.0,348.7 L1440.8,346.7 L1440.6,344.8 L1440.4,342.8 L1440.1,340.8 L1439.9,338.8 L1439.7,336.8 L1439.5,334.8 L1439.3,332.8 L1439.1,330.8 L1438.8,328.9 L1438.6,326.9 L1438.4,324.9 L1438.2,322.9 L1437.9,320.9 L1437.7,318.9 L1437.4,317.0 L1437.2,315.0 L1436.9,313.0 L1436.7,311.0 L1436.4,309.0 L1436.2,307.0 L1435.9,305.1 L1435.7,303.1 L1435.4,301.1 L1435.1,299.1 L1434.9,297.1 L1434.6,295.2 L1434.3,293.2 L1434.1,291.2 L1433.8,289.2 L1433.5,287.2 L1433.2,285.3 L1432.9,283.3 L1432.6,281.3 L1432.3,279.3 L1432.0,277.4 L1431.7,275.4 L1431.4,273.4 L1431.1,271.4 L1430.8,269.4 L1430.5,267.5 L1430.2,265.5 L1429.9,263.5 L1429.6,261.6 L1429.2,259.6 L1428.9,257.6 L1428.6,255.6 L1428.3,253.7 L1427.9,251.7 L1427.6,249.7 L1427.2,247.7 L1426.9,245.8 L1426.6,243.8 L1426.2,241.8 L1425.9,239.9 L1425.5,237.9 L1425.1,235.9 L1424.8,234.0 L1424.4,232.0 L1424.1,230.0 L1423.7,228.1 L1423.3,226.1 L1423.0,224.1 L1422.6,222.2 L1422.2,220.2 L1421.8,218.2 L1421.4,216.3 L1421.0,214.3 L1420.7,212.3 L1420.3,210.4 L1419.9,208.4 L1419.5,206.5 L1419.1,204.5 L1418.7,202.5 L1418.2,200.6 L1417.8,198.6 L1417.4,196.7 L1417.0,194.7 L1416.6,192.7 L1416.2,190.8 L1415.7,188.8 L1415.3,186.9 L1414.9,184.9 L1414.4,182.9 L1414.0,181.0 L1413.6,179.0 L1413.1,177.1 L1412.7,175.1 L1412.2,173.2 L1411.8,171.2 L1411.3,169.3 L1411.3,169.3" fill="none" stroke="#b1b1b1" stroke-width="7" stroke-dasharray="30 22.597" stroke-dashoffset="15.000"/>
<line x1="84.66" y1="1106.3" x2="1997.5" y2="1106.3" stroke="#000" stroke-width="7.5" stroke-linecap="round" stroke-dasharray="0 15.056"/>
<path d="M2020.6,1106.3 L1997.5,1095.6 L1997.5,1117 Z" fill="#000"/>
<line x1="82.7" y1="1107.3" x2="1986.3" y2="240.5" stroke="#000" stroke-width="5.2" stroke-dasharray="24.5 17.69"/>
<path d="M2019.4,225.4 L2007.3,239.7 L2000.6,225.2 Z" fill="#000"/>
<path id="curve" d="M476.0,1251.9 L477.7,1251.0 L479.4,1250.0 L481.1,1249.0 L482.8,1247.9 L484.4,1246.9 L486.1,1245.9 L487.8,1244.8 L489.5,1243.8 L491.2,1242.7 L492.8,1241.6 L494.5,1240.5 L496.2,1239.4 L497.8,1238.3 L499.5,1237.1 L501.1,1236.0 L502.8,1234.8 L504.4,1233.6 L506.1,1232.4 L507.7,1231.2 L509.3,1230.0 L510.9,1228.8 L512.5,1227.6 L514.1,1226.3 L515.7,1225.1 L517.2,1223.8 L518.8,1222.5 L520.4,1221.2 L521.9,1219.9 L523.4,1218.6 L525.0,1217.2 L526.5,1215.9 L528.0,1214.5 L529.4,1213.2 L530.9,1211.8 L532.4,1210.4 L533.8,1209.0 L535.2,1207.5 L536.7,1206.1 L538.1,1204.7 L539.5,1203.2 L540.8,1201.7 L542.2,1200.3 L543.5,1198.8 L544.8,1197.3 L546.1,1195.7 L547.4,1194.2 L548.7,1192.7 L550.0,1191.1 L551.2,1189.5 L552.4,1188.0 L553.6,1186.4 L554.8,1184.8 L555.9,1183.1 L557.1,1181.5 L558.2,1179.9 L559.3,1178.2 L560.3,1176.6 L561.4,1174.9 L562.4,1173.2 L563.4,1171.5 L564.4,1169.8 L565.4,1168.0 L566.3,1166.3 L567.2,1164.6 L568.1,1162.8 L569.0,1161.0 L569.9,1159.2 L570.7,1157.4 L571.5,1155.7 L572.4,1153.8 L573.2,1152.0 L573.9,1150.2 L574.7,1148.4 L575.5,1146.5 L576.2,1144.7 L577.0,1142.8 L577.7,1141.0 L578.4,1139.1 L579.1,1137.2 L579.8,1135.4 L580.5,1133.5 L581.2,1131.6 L581.9,1129.7 L582.6,1127.8 L583.3,1125.9 L584.0,1124.0 L584.7,1122.1 L585.4,1120.2 L586.0,1118.3 L586.7,1116.4 L587.4,1114.5 L588.1,1112.6 L588.8,1110.7 L589.5,1108.8 L590.1,1106.9 L590.8,1105.0 L591.5,1103.1 L592.2,1101.2 L592.9,1099.3 L593.5,1097.3 L594.2,1095.4 L594.9,1093.5 L595.5,1091.6 L596.2,1089.7 L596.8,1087.8 L597.5,1085.8 L598.1,1083.9 L598.7,1082.0 L599.3,1080.1 L600.0,1078.1 L600.6,1076.2 L601.1,1074.3 L601.7,1072.3 L602.3,1070.4 L602.8,1068.5 L603.4,1066.5 L603.9,1064.6 L604.4,1062.7 L604.9,1060.7 L605.4,1058.8 L605.9,1056.8 L606.4,1054.9 L606.8,1052.9 L607.3,1051.0 L607.7,1049.1 L608.1,1047.1 L608.5,1045.2 L608.9,1043.2 L609.3,1041.2 L609.7,1039.3 L610.1,1037.3 L610.4,1035.4 L610.8,1033.4 L611.1,1031.5 L611.4,1029.5 L611.7,1027.5 L612.0,1025.6 L612.3,1023.6 L612.6,1021.6 L612.9,1019.7 L613.1,1017.7 L613.4,1015.7 L613.6,1013.8 L613.9,1011.8 L614.1,1009.8 L614.3,1007.8 L614.5,1005.9 L614.7,1003.9 L614.9,1001.9 L615.0,999.9 L615.2,998.0 L615.4,996.0 L615.5,994.0 L615.6,992.0 L615.8,990.0 L615.9,988.1 L616.0,986.1 L616.1,984.1 L616.2,982.1 L616.3,980.1 L616.4,978.1 L616.5,976.1 L616.5,974.2 L616.6,972.2 L616.7,970.2 L616.7,968.2 L616.7,966.2 L616.8,964.2 L616.8,962.2 L616.8,960.2 L616.8,958.2 L616.8,956.2 L616.8,954.2 L616.8,952.2 L616.8,950.2 L616.8,948.2 L616.8,946.2 L616.8,944.2 L616.7,942.2 L616.7,940.2 L616.6,938.2 L616.6,936.2 L616.5,934.2 L616.5,932.2 L616.4,930.2 L616.3,928.2 L616.2,926.2 L616.2,924.2 L616.1,922.2 L616.0,920.2 L615.9,918.2 L615.8,916.2 L615.7,914.2 L615.6,912.2 L615.5,910.2 L615.4,908.2 L615.2,906.2 L615.1,904.2 L615.0,902.2 L614.9,900.2 L614.7,898.2 L614.6,896.2 L614.5,894.1 L614.3,892.1 L614.2,890.1 L614.0,888.1 L613.9,886.1 L613.7,884.1 L613.6,882.1 L613.4,880.1 L613.3,878.1 L613.1,876.1 L613.0,874.1 L612.8,872.1 L612.6,870.1 L612.5,868.1 L612.3,866.0 L612.1,864.0 L612.0,862.0 L611.8,860.0 L611.6,858.0 L611.5,856.0 L611.3,854.0 L611.1,852.0 L611.0,850.0 L610.8,848.0 L610.6,846.0 L610.4,844.0 L610.3,842.0 L610.1,840.0 L609.9,838.0 L609.7,835.9 L609.6,833.9 L609.4,831.9 L609.2,829.9 L609.1,827.9 L608.9,825.9 L608.7,823.9 L608.6,821.9 L608.4,819.9 L608.2,817.9 L608.1,815.9 L607.9,813.9 L607.8,811.9 L607.6,809.9 L607.4,807.9 L607.3,805.9 L607.1,803.9 L607.0,801.9 L606.8,799.9 L606.7,797.9 L606.6,795.9 L606.4,793.9 L606.3,791.9 L606.2,790.0 L606.0,788.0 L605.9,786.0 L605.8,784.0 L605.7,782.0 L605.6,780.0 L605.4,778.0 L605.3,776.0 L605.2,774.0 L605.1,772.0 L605.0,770.0 L604.9,768.0 L604.8,766.0 L604.8,764.1 L604.7,762.1 L604.6,760.1 L604.5,758.1 L604.5,756.1 L604.4,754.1 L604.4,752.1 L604.3,750.1 L604.3,748.1 L604.2,746.2 L604.2,744.2 L604.2,742.2 L604.1,740.2 L604.1,738.2 L604.1,736.2 L604.1,734.2 L604.1,732.2 L604.1,730.3 L604.1,728.3 L604.1,726.3 L604.2,724.3 L604.2,722.3 L604.2,720.3 L604.3,718.3 L604.3,716.4 L604.4,714.4 L604.4,712.4 L604.5,710.4 L604.6,708.4 L604.7,706.4 L604.8,704.4 L604.9,702.5 L605.0,700.5 L605.1,698.5 L605.2,696.5 L605.4,694.5 L605.5,692.5 L605.7,690.5 L605.8,688.6 L606.0,686.6 L606.2,684.6 L606.3,682.6 L606.5,680.6 L606.7,678.6 L606.9,676.6 L607.1,674.7 L607.3,672.7 L607.6,670.7 L607.8,668.7 L608.0,666.7 L608.3,664.7 L608.5,662.7 L608.8,660.8 L609.1,658.8 L609.4,656.8 L609.6,654.8 L609.9,652.8 L610.2,650.8 L610.5,648.8 L610.9,646.8 L611.2,644.8 L611.5,642.9 L611.9,640.9 L612.2,638.9 L612.5,636.9 L612.9,634.9 L613.3,632.9 L613.6,630.9 L614.0,628.9 L614.4,626.9 L614.8,625.0 L615.2,623.0 L615.6,621.0 L616.0,619.0 L616.5,617.0 L616.9,615.0 L617.3,613.0 L617.8,611.0 L618.2,609.0 L618.7,607.0 L619.2,605.1 L619.7,603.1 L620.2,601.1 L620.7,599.1 L621.2,597.2 L621.7,595.2 L622.3,593.2 L622.8,591.3 L623.4,589.3 L624.0,587.4 L624.6,585.4 L625.2,583.5 L625.8,581.6 L626.5,579.7 L627.1,577.8 L627.8,575.9 L628.5,574.1 L629.3,572.2 L630.0,570.4 L630.8,568.5 L631.6,566.7 L632.4,564.9 L633.2,563.1 L634.1,561.3 L635.0,559.6 L635.9,557.8 L636.8,556.1 L637.8,554.4 L638.7,552.7 L639.8,551.1 L640.8,549.4 L641.9,547.8 L643.0,546.2 L644.1,544.6 L645.2,543.1 L646.4,541.5 L647.6,540.0 L648.9,538.6 L650.2,537.1 L651.5,535.7 L652.8,534.2 L654.2,532.9 L655.6,531.5 L657.0,530.2 L658.5,528.8 L659.9,527.5 L661.4,526.3 L663.0,525.0 L664.5,523.8 L666.1,522.5 L667.7,521.3 L669.3,520.2 L670.9,519.0 L672.6,517.9 L674.3,516.7 L676.0,515.6 L677.7,514.6 L679.4,513.5 L681.1,512.4 L682.9,511.4 L684.7,510.4 L686.5,509.4 L688.2,508.4 L690.1,507.4 L691.9,506.4 L693.7,505.5 L695.5,504.5 L697.4,503.6 L699.2,502.7 L701.1,501.8 L703.0,500.9 L704.8,500.1 L706.7,499.2 L708.6,498.4 L710.5,497.6 L712.4,496.8 L714.3,496.0 L716.2,495.2 L718.2,494.5 L720.1,493.8 L722.0,493.1 L723.9,492.4 L725.9,491.8 L727.8,491.1 L729.8,490.5 L731.7,490.0 L733.7,489.4 L735.6,488.9 L737.6,488.4 L739.5,487.9 L741.5,487.5 L743.4,487.1 L745.4,486.7 L747.4,486.4 L749.3,486.0 L751.3,485.8 L753.3,485.5 L755.2,485.3 L757.2,485.1 L759.1,484.9 L761.1,484.8 L763.1,484.8 L765.0,484.7 L767.0,484.7 L768.9,484.7 L770.9,484.8 L772.8,484.9 L774.8,485.1 L776.7,485.3 L778.7,485.5 L780.6,485.8 L782.5,486.1 L784.5,486.5 L786.4,486.9 L788.3,487.3 L790.2,487.8 L792.1,488.3 L794.0,488.9 L795.9,489.5 L797.8,490.2 L799.6,490.9 L801.5,491.6 L803.4,492.4 L805.2,493.2 L807.0,494.0 L808.8,494.8 L810.6,495.7 L812.4,496.7 L814.2,497.6 L815.9,498.6 L817.7,499.6 L819.4,500.7 L821.1,501.7 L822.8,502.8 L824.5,504.0 L826.1,505.1 L827.7,506.3 L829.3,507.5 L830.9,508.7 L832.5,509.9 L834.0,511.2 L835.6,512.4 L837.1,513.7 L838.6,515.0 L840.0,516.4 L841.5,517.7 L842.9,519.1 L844.4,520.5 L845.8,521.9 L847.2,523.3 L848.5,524.7 L849.9,526.2 L851.2,527.7 L852.6,529.1 L853.9,530.6 L855.2,532.1 L856.5,533.6 L857.8,535.2 L859.1,536.7 L860.4,538.2 L861.6,539.8 L862.9,541.4 L864.1,542.9 L865.4,544.5 L866.6,546.1 L867.8,547.7 L869.0,549.3 L870.2,550.9 L871.4,552.5 L872.6,554.2 L873.8,555.8 L875.0,557.4 L876.2,559.0 L877.4,560.7 L878.6,562.3 L879.8,564.0 L881.0,565.6 L882.1,567.2 L883.3,568.9 L884.5,570.5 L885.7,572.1 L886.9,573.8 L888.1,575.4 L889.3,577.0 L890.5,578.7 L891.6,580.3 L892.8,581.9 L894.0,583.5 L895.2,585.2 L896.4,586.8 L897.6,588.4 L898.8,590.0 L900.0,591.7 L901.2,593.3 L902.4,594.9 L903.6,596.5 L904.7,598.1 L905.9,599.8 L907.1,601.4 L908.3,603.0 L909.4,604.6 L910.6,606.3 L911.8,607.9 L912.9,609.5 L914.1,611.2 L915.2,612.8 L916.4,614.5 L917.5,616.1 L918.6,617.8 L919.7,619.4 L920.9,621.1 L922.0,622.7 L923.1,624.4 L924.2,626.0 L925.2,627.7 L926.3,629.4 L927.4,631.1 L928.4,632.8 L929.5,634.4 L930.5,636.1 L931.6,637.8 L932.6,639.6 L933.6,641.3 L934.6,643.0 L935.6,644.7 L936.5,646.4 L937.5,648.2 L938.4,649.9 L939.4,651.7 L940.3,653.4 L941.3,655.2 L942.2,657.0 L943.1,658.7 L944.0,660.5 L944.9,662.3 L945.7,664.1 L946.6,665.9 L947.5,667.6 L948.4,669.4 L949.2,671.2 L950.1,673.1 L950.9,674.9 L951.7,676.7 L952.6,678.5 L953.4,680.3 L954.2,682.1 L955.0,684.0 L955.8,685.8 L956.6,687.6 L957.4,689.5 L958.2,691.3 L959.0,693.1 L959.8,695.0 L960.6,696.8 L961.3,698.7 L962.1,700.5 L962.9,702.4 L963.7,704.2 L964.4,706.1 L965.2,707.9 L966.0,709.8 L966.7,711.6 L967.5,713.5 L968.3,715.3 L969.0,717.2 L969.8,719.0 L970.6,720.9 L971.3,722.7 L972.1,724.6 L972.9,726.5 L973.6,728.3 L974.4,730.2 L975.2,732.0 L975.9,733.9 L976.7,735.7 L977.5,737.6 L978.3,739.4 L979.1,741.3 L979.8,743.1 L980.6,745.0 L981.4,746.8 L982.2,748.7 L983.0,750.5 L983.8,752.3 L984.6,754.2 L985.5,756.0 L986.3,757.8 L987.1,759.7 L987.9,761.5 L988.8,763.3 L989.6,765.1 L990.5,766.9 L991.3,768.7 L992.2,770.5 L993.0,772.4 L993.9,774.2 L994.8,775.9 L995.7,777.7 L996.6,779.5 L997.5,781.3 L998.4,783.1 L999.3,784.9 L1000.2,786.7 L1001.1,788.4 L1002.1,790.2 L1003.0,792.0 L1004.0,793.7 L1004.9,795.5 L1005.9,797.3 L1006.8,799.0 L1007.8,800.8 L1008.8,802.5 L1009.8,804.2 L1010.8,806.0 L1011.8,807.7 L1012.8,809.4 L1013.8,811.2 L1014.8,812.9 L1015.8,814.6 L1016.9,816.3 L1017.9,818.0 L1018.9,819.7 L1020.0,821.4 L1021.0,823.1 L1022.1,824.8 L1023.2,826.5 L1024.3,828.2 L1025.4,829.9 L1026.4,831.5 L1027.6,833.2 L1028.7,834.9 L1029.8,836.6 L1030.9,838.2 L1032.0,839.9 L1033.2,841.5 L1034.3,843.2 L1035.5,844.8 L1036.6,846.4 L1037.8,848.1 L1039.0,849.7 L1040.2,851.3 L1041.4,852.9 L1042.6,854.5 L1043.8,856.0 L1045.1,857.6 L1046.3,859.2 L1047.6,860.7 L1048.9,862.2 L1050.2,863.7 L1051.5,865.2 L1052.8,866.7 L1054.2,868.2 L1055.5,869.6 L1056.9,871.0 L1058.3,872.4 L1059.7,873.8 L1061.2,875.2 L1062.6,876.5 L1064.1,877.8 L1065.6,879.1 L1067.1,880.4 L1068.7,881.7 L1070.2,882.9 L1071.8,884.1 L1073.4,885.3 L1075.1,886.4 L1076.7,887.5 L1078.4,888.7 L1080.1,889.7 L1081.7,890.8 L1083.5,891.9 L1085.2,892.9 L1086.9,894.0 L1088.7,895.0 L1090.4,896.0 L1092.2,897.0 L1094.0,898.0 L1095.8,899.0 L1097.6,899.9 L1099.4,900.9 L1101.2,901.9 L1103.0,902.8 L1104.8,903.8 L1106.6,904.7 L1108.4,905.6 L1110.2,906.5 L1112.1,907.4 L1113.9,908.3 L1115.7,909.2 L1117.6,910.0 L1119.4,910.9 L1121.3,911.7 L1123.1,912.5 L1125.0,913.3 L1126.8,914.0 L1128.7,914.8 L1130.6,915.5 L1132.5,916.2 L1134.3,916.8 L1136.2,917.5 L1138.1,918.1 L1140.0,918.6 L1141.9,919.2 L1143.8,919.7 L1145.7,920.2 L1147.6,920.6 L1149.6,921.0 L1151.5,921.4 L1153.4,921.8 L1155.3,922.1 L1157.3,922.3 L1159.2,922.6 L1161.1,922.7 L1163.1,922.9 L1165.0,923.0 L1167.0,923.0 L1168.9,923.1 L1170.9,923.0 L1172.9,922.9 L1174.8,922.8 L1176.8,922.7 L1178.8,922.5 L1180.7,922.3 L1182.7,922.0 L1184.7,921.7 L1186.7,921.4 L1188.6,921.0 L1190.6,920.6 L1192.6,920.2 L1194.5,919.8 L1196.5,919.3 L1198.5,918.8 L1200.4,918.3 L1202.4,917.7 L1204.4,917.2 L1206.3,916.6 L1208.3,916.0 L1210.2,915.4 L1212.2,914.7 L1214.1,914.1 L1216.1,913.4 L1218.0,912.7 L1219.9,912.0 L1221.8,911.3 L1223.7,910.6 L1225.6,909.8 L1227.5,909.1 L1229.4,908.4 L1231.3,907.6 L1233.2,906.9 L1235.1,906.1 L1236.9,905.3 L1238.8,904.6 L1240.6,903.8 L1242.4,903.0 L1244.2,902.2 L1246.0,901.4 L1247.8,900.5 L1249.6,899.7 L1251.4,898.8 L1253.1,897.9 L1254.9,896.9 L1256.6,895.9 L1258.3,894.9 L1260.0,893.9 L1261.6,892.9 L1263.3,891.8 L1264.9,890.7 L1266.5,889.5 L1268.2,888.4 L1269.8,887.2 L1271.3,886.0 L1272.9,884.8 L1274.5,883.6 L1276.0,882.3 L1277.5,881.0 L1279.1,879.7 L1280.6,878.4 L1282.1,877.1 L1283.5,875.8 L1285.0,874.4 L1286.5,873.0 L1287.9,871.6 L1289.4,870.2 L1290.8,868.8 L1292.2,867.4 L1293.6,866.0 L1295.0,864.5 L1296.4,863.1 L1297.8,861.6 L1299.1,860.2 L1300.5,858.7 L1301.8,857.2 L1303.1,855.7 L1304.5,854.2 L1305.8,852.7 L1307.1,851.1 L1308.3,849.6 L1309.6,848.1 L1310.9,846.5 L1312.2,845.0 L1313.4,843.4 L1314.6,841.8 L1315.9,840.2 L1317.1,838.6 L1318.3,837.0 L1319.5,835.4 L1320.7,833.8 L1321.8,832.2 L1323.0,830.6 L1324.1,828.9 L1325.3,827.3 L1326.4,825.6 L1327.5,824.0 L1328.6,822.3 L1329.7,820.6 L1330.8,818.9 L1331.9,817.3 L1333.0,815.6 L1334.0,813.9 L1335.1,812.2 L1336.1,810.4 L1337.2,808.7 L1338.2,807.0 L1339.2,805.2 L1340.2,803.5 L1341.2,801.8 L1342.1,800.0 L1343.1,798.2 L1344.1,796.5 L1345.0,794.7 L1345.9,792.9 L1346.9,791.2 L1347.8,789.4 L1348.7,787.6 L1349.6,785.8 L1350.5,784.0 L1351.3,782.2 L1352.2,780.3 L1353.0,778.5 L1353.9,776.7 L1354.7,774.9 L1355.5,773.0 L1356.3,771.2 L1357.1,769.4 L1357.9,767.5 L1358.7,765.7 L1359.5,763.8 L1360.2,761.9 L1361.0,760.1 L1361.7,758.2 L1362.4,756.3 L1363.2,754.5 L1363.9,752.6 L1364.6,750.7 L1365.2,748.8 L1365.9,746.9 L1366.6,745.0 L1367.2,743.1 L1367.9,741.2 L1368.5,739.3 L1369.1,737.4 L1369.8,735.5 L1370.4,733.6 L1371.0,731.7 L1371.5,729.8 L1372.1,727.9 L1372.7,725.9 L1373.2,724.0 L1373.8,722.1 L1374.3,720.2 L1374.8,718.2 L1375.3,716.3 L1375.8,714.4 L1376.3,712.4 L1376.8,710.5 L1377.3,708.5 L1377.8,706.6 L1378.2,704.7 L1378.7,702.7 L1379.1,700.8 L1379.5,698.8 L1379.9,696.9 L1380.3,694.9 L1380.7,692.9 L1381.1,691.0 L1381.5,689.0 L1381.9,687.1 L1382.2,685.1 L1382.6,683.1 L1382.9,681.2 L1383.2,679.2 L1383.6,677.2 L1383.9,675.2 L1384.2,673.3 L1384.5,671.3 L1384.8,669.3 L1385.1,667.3 L1385.3,665.4 L1385.6,663.4 L1385.8,661.4 L1386.1,659.4 L1386.3,657.4 L1386.5,655.5 L1386.8,653.5 L1387.0,651.5 L1387.2,649.5 L1387.4,647.5 L1387.6,645.5 L1387.7,643.5 L1387.9,641.5 L1388.1,639.5 L1388.2,637.6 L1388.4,635.6 L1388.5,633.6 L1388.6,631.6 L1388.8,629.6 L1388.9,627.6 L1389.0,625.6 L1389.1,623.6 L1389.2,621.6 L1389.3,619.6 L1389.4,617.6 L1389.4,615.6 L1389.5,613.6 L1389.5,611.6 L1389.6,609.6 L1389.6,607.6 L1389.7,605.6 L1389.7,603.6 L1389.7,601.6 L1389.7,599.6 L1389.7,597.6 L1389.7,595.6 L1389.7,593.6 L1389.7,591.6 L1389.7,589.6 L1389.7,587.6 L1389.7,585.6 L1389.6,583.6 L1389.6,581.6 L1389.5,579.6 L1389.5,577.6 L1389.4,575.6 L1389.3,573.6 L1389.3,571.6 L1389.2,569.6 L1389.1,567.6 L1389.0,565.6 L1388.9,563.6 L1388.8,561.6 L1388.7,559.6 L1388.6,557.6 L1388.5,555.6 L1388.4,553.6 L1388.3,551.6 L1388.2,549.6 L1388.0,547.6 L1387.9,545.6 L1387.8,543.6 L1387.6,541.6 L1387.5,539.6 L1387.4,537.6 L1387.2,535.6 L1387.1,533.6 L1386.9,531.6 L1386.8,529.6 L1386.6,527.6 L1386.5,525.6 L1386.3,523.6 L1386.1,521.6 L1386.0,519.6 L1385.8,517.6 L1385.6,515.6 L1385.5,513.6 L1385.3,511.6 L1385.1,509.6 L1385.0,507.6 L1384.8,505.6 L1384.6,503.6 L1384.4,501.6 L1384.3,499.6 L1384.1,497.6 L1383.9,495.6 L1383.7,493.6 L1383.5,491.6 L1383.4,489.6 L1383.2,487.6 L1383.0,485.6 L1382.8,483.6 L1382.7,481.6 L1382.5,479.6 L1382.3,477.6 L1382.1,475.6 L1382.0,473.6 L1381.8,471.6 L1381.6,469.6 L1381.5,467.6 L1381.3,465.6 L1381.1,463.6 L1381.0,461.6 L1380.8,459.6 L1380.7,457.6 L1380.5,455.6 L1380.3,453.6 L1380.2,451.6 L1380.0,449.6 L1379.9,447.6 L1379.8,445.6 L1379.6,443.6 L1379.5,441.6 L1379.3,439.6 L1379.2,437.6 L1379.1,435.7 L1379.0,433.7 L1378.9,431.7 L1378.7,429.7 L1378.6,427.7 L1378.5,425.7 L1378.4,423.7 L1378.3,421.7 L1378.2,419.7 L1378.1,417.7 L1378.1,415.7 L1378.0,413.7 L1377.9,411.7 L1377.8,409.7 L1377.8,407.7 L1377.7,405.7 L1377.7,403.7 L1377.6,401.7 L1377.6,399.7 L1377.6,397.7 L1377.5,395.7 L1377.5,393.7 L1377.5,391.7 L1377.5,389.8 L1377.5,387.8 L1377.5,385.8 L1377.5,383.8 L1377.5,381.8 L1377.6,379.8 L1377.6,377.8 L1377.6,375.8 L1377.7,373.8 L1377.7,371.8 L1377.8,369.8 L1377.9,367.8 L1378.0,365.8 L1378.0,363.8 L1378.1,361.8 L1378.2,359.9 L1378.3,357.9 L1378.4,355.9 L1378.6,353.9 L1378.7,351.9 L1378.8,349.9 L1379.0,347.9 L1379.1,345.9 L1379.3,343.9 L1379.4,341.9 L1379.6,339.9 L1379.7,337.9 L1379.9,336.0 L1380.1,334.0 L1380.3,332.0 L1380.5,330.0 L1380.7,328.0 L1380.9,326.0 L1381.1,324.0 L1381.3,322.0 L1381.6,320.0 L1381.8,318.0 L1382.0,316.0 L1382.3,314.1 L1382.5,312.1 L1382.8,310.1 L1383.0,308.1 L1383.3,306.1 L1383.6,304.1 L1383.9,302.1 L1384.1,300.1 L1384.4,298.1 L1384.7,296.2 L1385.0,294.2 L1385.3,292.2 L1385.6,290.2 L1386.0,288.2 L1386.3,286.2 L1386.6,284.2 L1386.9,282.2 L1387.3,280.3 L1387.6,278.3 L1388.0,276.3 L1388.3,274.3 L1388.7,272.3 L1389.0,270.3 L1389.4,268.3 L1389.7,266.4 L1390.1,264.4 L1390.5,262.4 L1390.9,260.4 L1391.3,258.4 L1391.7,256.4 L1392.1,254.4 L1392.5,252.5 L1392.9,250.5 L1393.3,248.5 L1393.7,246.5 L1394.1,244.5 L1394.6,242.6 L1395.0,240.6 L1395.5,238.6 L1396.0,236.7 L1396.5,234.7 L1397.0,232.8 L1397.5,230.9 L1398.1,229.0 L1398.7,227.1 L1399.3,225.2 L1400.0,223.3 L1400.7,221.5 L1401.4,219.6 L1402.1,217.8 L1402.9,216.0 L1403.7,214.2 L1404.6,212.5 L1405.5,210.7 L1406.4,209.0 L1407.4,207.3 L1408.5,205.7 L1409.5,204.0 L1410.7,202.4 L1411.8,200.8 L1413.0,199.2 L1414.3,197.7 L1415.6,196.2 L1416.9,194.7 L1418.2,193.2 L1419.6,191.7 L1421.0,190.3 L1422.4,188.9 L1423.9,187.5 L1425.3,186.1 L1426.8,184.7 L1428.4,183.4 L1429.9,182.0 L1431.4,180.7 L1433.0,179.4 L1434.6,178.2 L1436.2,176.9 L1437.8,175.7 L1439.4,174.4 L1441.0,173.2 L1442.6,172.0 L1444.2,170.8 L1445.8,169.7 L1447.5,168.5 L1449.1,167.4 L1450.8,166.3 L1452.4,165.2 L1454.1,164.1 L1455.8,163.0 L1457.5,162.0 L1459.2,160.9 L1460.9,159.9 L1462.6,158.9 L1464.4,157.9 L1466.1,157.0 L1467.9,156.0 L1469.6,155.1 L1471.4,154.2 L1473.2,153.4 L1475.0,152.5 L1476.8,151.7 L1478.6,150.8 L1480.4,150.1 L1482.3,149.3 L1484.1,148.5 L1486.0,147.8 L1487.9,147.1 L1489.8,146.4 L1491.7,145.7 L1493.6,145.1 L1495.5,144.5 L1497.4,143.9 L1499.4,143.3 L1501.3,142.8 L1503.3,142.3 L1505.3,141.8 L1507.3,141.3 L1509.3,140.8 L1511.3,140.4 L1513.3,140.0 L1515.3,139.7 L1517.3,139.3 L1519.3,139.0 L1521.4,138.7 L1523.4,138.5 L1525.4,138.3 L1527.5,138.1 L1529.5,137.9 L1531.5,137.8 L1533.5,137.7 L1535.6,137.6 L1537.6,137.6 L1539.6,137.6 L1541.6,137.6 L1543.6,137.7 L1545.6,137.8 L1547.6,137.9 L1549.6,138.1 L1551.6,138.3 L1553.6,138.6 L1555.5,138.8 L1557.5,139.2 L1559.4,139.5 L1561.3,139.9 L1563.2,140.3 L1565.1,140.8 L1567.0,141.3 L1568.9,141.8 L1570.7,142.4 L1572.6,143.1 L1574.4,143.7 L1576.2,144.4 L1578.0,145.2 L1579.7,146.0 L1581.5,146.8 L1583.2,147.7 L1584.9,148.6 L1586.6,149.6 L1588.2,150.6 L1589.9,151.6 L1591.5,152.7 L1593.1,153.8 L1594.6,154.9 L1596.2,156.1 L1597.8,157.3 L1599.3,158.5 L1600.8,159.8 L1602.3,161.1 L1603.8,162.4 L1605.2,163.8 L1606.7,165.2 L1608.1,166.6 L1609.6,168.0 L1611.0,169.4 L1612.4,170.9 L1613.8,172.4 L1615.2,173.9 L1616.5,175.4 L1617.9,176.9 L1619.3,178.5 L1620.6,180.0 L1621.9,181.6 L1623.3,183.2 L1624.6,184.7 L1625.9,186.3 L1627.2,187.9 L1628.5,189.5 L1629.8,191.2 L1631.1,192.8 L1632.4,194.4 L1633.7,196.0 L1635.0,197.6 L1636.2,199.2 L1637.5,200.8 L1638.8,202.4 L1640.1,204.0 L1641.3,205.6 L1642.6,207.2 L1643.9,208.8 L1645.1,210.4 L1646.4,212.0 L1647.7,213.6 L1648.9,215.2 L1650.2,216.8 L1651.4,218.4 L1652.7,220.0 L1653.9,221.5 L1655.2,223.1 L1656.4,224.7 L1657.6,226.3 L1658.9,227.9 L1660.1,229.5 L1661.3,231.0 L1662.6,232.6 L1663.8,234.2 L1665.0,235.8 L1666.2,237.4 L1667.4,238.9 L1668.6,240.5 L1669.8,242.1 L1671.0,243.7 L1672.2,245.3 L1673.4,246.9 L1674.5,248.5 L1675.7,250.1 L1676.9,251.7 L1678.1,253.3 L1679.2,254.9 L1680.4,256.5 L1681.5,258.1 L1682.7,259.7 L1683.8,261.3 L1684.9,262.9 L1686.1,264.5 L1687.2,266.1 L1688.3,267.7 L1689.4,269.4 L1690.5,271.0 L1691.6,272.6 L1692.7,274.3 L1693.8,275.9 L1694.9,277.6 L1696.0,279.2 L1697.0,280.9 L1698.1,282.5 L1699.2,284.2 L1700.2,285.9 L1701.3,287.6 L1702.3,289.2 L1703.3,290.9 L1704.4,292.6 L1705.4,294.3 L1706.4,296.0 L1707.4,297.8 L1708.4,299.5 L1709.4,301.2 L1710.4,302.9 L1711.4,304.7 L1712.3,306.4 L1713.3,308.1 L1714.3,309.9 L1715.2,311.7 L1716.2,313.4 L1717.1,315.2 L1718.0,316.9 L1719.0,318.7 L1719.9,320.5 L1720.8,322.3 L1721.7,324.0 L1722.6,325.8 L1723.5,327.6 L1724.4,329.4 L1725.3,331.2 L1726.2,333.0 L1727.1,334.8 L1728.0,336.6 L1728.9,338.4 L1729.7,340.2 L1730.6,342.0 L1731.5,343.8 L1732.3,345.7 L1733.2,347.5 L1734.0,349.3 L1734.9,351.1 L1735.7,352.9 L1736.6,354.8 L1737.4,356.6 L1738.2,358.4 L1739.1,360.2 L1739.9,362.1 L1740.7,363.9 L1741.5,365.7 L1742.4,367.5 L1743.2,369.4 L1744.0,371.2 L1744.8,373.0 L1745.6,374.9 L1746.4,376.7 L1747.2,378.5 L1748.1,380.4 L1748.9,382.2 L1749.7,384.0 L1750.5,385.8 L1751.3,387.7 L1752.1,389.5 L1752.9,391.3 L1753.7,393.2 L1754.5,395.0 L1755.3,396.8 L1756.2,398.7 L1757.0,400.5 L1757.8,402.3 L1758.6,404.1 L1759.4,406.0 L1760.2,407.8 L1761.1,409.6 L1761.9,411.4 L1762.7,413.2 L1763.6,415.1 L1764.4,416.9 L1765.2,418.7 L1766.1,420.5 L1766.9,422.3 L1767.8,424.1 L1768.6,425.9 L1769.5,427.7 L1770.3,429.6 L1771.2,431.4 L1772.1,433.2 L1772.9,434.9 L1773.8,436.7 L1774.7,438.5 L1775.6,440.3 L1776.5,442.1 L1777.4,443.9 L1778.3,445.7 L1779.2,447.5 L1780.1,449.2 L1781.0,451.0 L1782.0,452.8 L1782.9,454.5 L1783.9,456.3 L1784.8,458.0 L1785.8,459.8 L1786.8,461.5 L1787.7,463.3 L1788.7,465.0 L1789.7,466.7 L1790.7,468.5 L1791.7,470.2 L1792.7,471.9 L1793.8,473.6 L1794.8,475.3 L1795.9,477.0 L1796.9,478.7 L1798.0,480.4 L1799.1,482.1 L1800.1,483.7 L1801.2,485.4 L1802.3,487.1 L1803.5,488.7 L1804.6,490.3 L1805.7,492.0 L1806.9,493.6 L1808.1,495.2 L1809.2,496.8 L1810.4,498.4 L1811.6,500.0 L1812.8,501.6 L1814.0,503.2 L1815.3,504.8 L1816.5,506.3 L1817.8,507.9 L1819.1,509.4 L1820.4,510.9 L1821.7,512.5 L1823.0,514.0 L1824.3,515.5 L1825.6,517.0 L1827.0,518.4 L1828.4,519.9 L1829.8,521.4 L1831.2,522.8 L1832.6,524.2 L1834.0,525.7 L1835.5,527.1 L1836.9,528.5 L1838.4,529.9 L1839.9,531.3 L1841.4,532.6 L1842.9,534.0 L1844.4,535.3 L1846.0,536.6 L1847.6,537.9 L1849.1,539.2 L1850.7,540.5 L1852.3,541.7 L1853.9,543.0 L1855.6,544.2 L1857.2,545.4 L1858.8,546.6 L1860.5,547.8 L1862.2,548.9 L1863.9,550.1 L1865.6,551.2 L1867.3,552.3 L1869.0,553.3 L1870.7,554.4 L1872.5,555.4 L1874.2,556.4 L1876.0,557.4 L1877.7,558.4 L1879.5,559.3 L1881.3,560.2 L1883.1,561.1 L1884.9,562.0 L1886.7,562.9 L1888.5,563.7 L1890.4,564.5 L1892.2,565.3 L1894.1,566.0 L1895.9,566.7 L1897.8,567.4 L1899.7,568.1 L1901.5,568.7 L1903.4,569.3 L1905.3,569.9 L1907.2,570.4 L1909.1,571.0 L1911.0,571.5 L1912.9,571.9 L1914.9,572.3 L1916.8,572.7 L1918.7,573.1 L1920.7,573.5 L1922.6,573.8 L1924.6,574.0 L1926.5,574.3 L1928.5,574.5 L1930.4,574.6 L1932.4,574.8 L1934.4,574.9 L1936.3,574.9 L1938.3,575.0 L1940.3,575.0 L1942.3,574.9 L1944.2,574.8 L1946.2,574.7 L1948.2,574.6 L1950.2,574.4 L1952.2,574.2 L1954.2,573.9 L1956.2,573.7 L1958.2,573.4 L1960.2,573.1 L1962.2,572.7 L1964.1,572.3 L1966.1,571.9 L1968.1,571.5 L1970.1,571.1 L1972.1,570.6 L1974.1,570.1 L1976.1,569.6 L1978.0,569.1 L1980.0,568.6 L1982.0,568.1 L1983.9,567.5 L1985.9,567.0 L1987.9,566.4 L1989.8,565.8 L1991.8,565.2 L1993.7,564.6 L1995.6,564.0 L1997.6,563.4 L1999.5,562.8 L2001.4,562.2 L2003.3,561.6 L2005.2,561.0 L2007.1,560.4 L2009.0,559.7 L2010.9,559.1 L2012.7,558.5 L2014.6,558.0 L2016.4,557.4 L2018.3,556.8 L2020.1,556.2" fill="none" stroke="#000" stroke-width="5.2"/>
<line x1="243.9" y1="93.5" x2="686.5" y2="483.7" stroke="#8c8c8c" stroke-width="2.6" stroke-dasharray="12 9"/>
<path d="M697.0,493.0 L678.3,487.8 L689.5,475.1 Z" fill="#8c8c8c"/>
<line x1="243.9" y1="93.5" x2="1459.3" y2="149.4" stroke="#8c8c8c" stroke-width="2.6" stroke-dasharray="12 9"/>
<path d="M1473.3,150.0 L1455.4,157.7 L1456.2,140.7 Z" fill="#8c8c8c"/>
<line x1="242.4" y1="542" x2="242.4" y2="1021" stroke="#8c8c8c" stroke-width="3" stroke-dasharray="24 9"/>
<path d="M242.4,1035.0 L233.7,1017.5 L251.2,1017.5 Z" fill="#8c8c8c"/>
<path d="M986.8,103.1 L987.9,105.8 L988.9,108.5 L989.9,111.2 L990.9,114.0 L991.9,116.7 L992.8,119.6 L993.7,122.4 L994.5,125.2 L995.3,128.1 L996.1,131.0 L996.9,134.0 L997.6,136.9 L998.2,139.9 L998.9,142.8 L999.4,145.8 L1000.0,148.9 L1000.5,151.9 L1000.9,154.9 L1001.3,158.0 L1001.6,161.1 L1001.9,164.2 L1002.1,167.3 L1002.3,170.4 L1002.4,173.5 L1002.4,176.6 L1002.4,179.7 L1002.2,182.8 L1002.0,185.9 L1001.8,189.0 L1001.4,192.0 L1000.9,195.0 L1000.3,198.0 L999.7,200.9 L998.9,203.8 L998.0,206.6 L997.0,209.4 L995.8,212.1 L994.5,214.8 L993.2,217.4 L991.7,219.9 L990.0,222.3 L988.3,224.7 L986.5,227.0 L984.5,229.2 L982.5,231.3 L980.4,233.3 L978.1,235.3 L975.8,237.2 L973.4,238.9 L971.0,240.7 L968.5,242.3 L965.9,243.9 L963.3,245.5 L960.7,247.0 L958.0,248.5 L955.3,249.9 L952.6,251.3 L949.9,252.6 L947.1,254.0 L944.4,255.3 L941.6,256.5 L938.8,257.8 L936.0,259.0 L933.2,260.2 L930.3,261.3 L927.5,262.5 L924.7,263.6 L921.8,264.7 L918.9,265.8 L916.0,266.9 L913.2,268.0 L910.3,269.0 L907.4,270.1 L904.5,271.1 L901.6,272.2 L898.7,273.2 L895.9,274.2 L893.0,275.3 L890.1,276.3 L887.3,277.3 L884.4,278.4 L881.6,279.5 L878.7,280.5 L875.9,281.6 L873.1,282.7 L870.3,283.8 L867.5,284.9 L864.7,286.1 L862.0,287.2 L859.2,288.4 L856.5,289.6 L853.8,290.8 L851.0,292.0 L848.3,293.2 L845.7,294.4 L843.0,295.7 L840.3,296.9 L837.6,298.2 L834.9,299.4 L832.3,300.7 L829.6,302.0 L826.9,303.2 L824.2,304.5 L821.6,305.8 L818.9,307.1 L816.2,308.4 L813.5,309.6 L810.8,310.9 L808.1,312.2 L805.4,313.5 L802.7,314.7 L800.0,316.0 L797.2,317.2 L794.5,318.5 L791.7,319.7 L788.9,320.9 L786.1,322.1 L783.3,323.3 L780.5,324.5 L777.7,325.7 L774.8,326.9 L771.9,328.0 L769.0,329.1 L766.0,330.2 L763.1,331.3 L760.1,332.4 L757.2,333.5 L754.2,334.6 L751.2,335.7 L748.3,336.8 L745.3,337.9 L742.4,339.0 L739.4,340.2 L736.5,341.3 L733.6,342.5 L730.8,343.7 L728.0,345.0 L725.2,346.3 L722.5,347.6 L719.8,349.0 L717.2,350.4 L714.6,351.9 L712.1,353.4 L709.7,355.0 L707.3,356.6 L705.0,358.3 L702.8,360.1 L700.6,362.0 L698.6,363.9 L696.6,366.0 L694.7,368.1 L692.9,370.3 L691.3,372.6 L689.7,374.9 L688.3,377.4 L686.9,380.0 L685.6,382.6 L684.5,385.3 L683.4,388.0 L682.4,390.9 L681.5,393.7 L680.8,396.7 L680.1,399.6 L679.4,402.6 L678.9,405.7 L678.5,408.8 L678.1,411.9 L677.9,415.0 L677.7,418.1 L677.6,421.3 L677.5,424.4 L677.6,427.6 L677.7,430.7 L677.9,433.9 L678.1,437.0 L678.5,440.1 L678.9,443.2 L679.3,446.3 L679.9,449.3 L680.5,452.3 L681.1,455.2 L681.9,458.1 L682.7,460.9 L683.5,463.7 L684.4,466.4 L685.3,469.0 L686.4,471.6" fill="none" stroke="#8a8a8a" stroke-width="3.4" stroke-dasharray="3.4 5.6"/>
<path d="M998.4,127.3 L1000.0,129.6 L1001.6,132.0 L1003.2,134.4 L1004.9,136.9 L1006.7,139.3 L1008.5,141.7 L1010.3,144.2 L1012.2,146.6 L1014.2,149.1 L1016.1,151.5 L1018.2,153.9 L1020.2,156.2 L1022.4,158.5 L1024.5,160.8 L1026.8,163.0 L1029.0,165.1 L1031.3,167.2 L1033.7,169.2 L1036.1,171.1 L1038.6,173.0 L1041.1,174.7 L1043.7,176.4 L1046.3,177.9 L1048.9,179.4 L1051.6,180.7 L1054.3,182.0 L1057.0,183.1 L1059.7,184.2 L1062.5,185.1 L1065.3,185.9 L1068.1,186.6 L1071.0,187.1 L1073.8,187.6 L1076.7,187.9 L1079.5,188.0 L1082.4,188.1 L1085.3,188.0 L1088.2,187.7 L1091.0,187.4 L1093.9,186.9 L1096.8,186.3 L1099.7,185.6 L1102.6,184.9 L1105.5,184.0 L1108.3,183.1 L1111.2,182.1 L1114.1,181.0 L1116.9,179.9 L1119.8,178.7 L1122.6,177.5 L1125.5,176.2 L1128.3,174.9 L1131.1,173.6 L1133.9,172.3 L1136.7,170.9 L1139.5,169.6 L1142.3,168.3 L1145.0,166.9 L1147.8,165.6 L1150.5,164.2 L1153.3,162.9 L1156.0,161.5 L1158.7,160.2 L1161.5,158.9 L1164.2,157.6 L1167.0,156.3 L1169.7,155.0 L1172.5,153.8 L1175.2,152.5 L1178.0,151.3 L1180.7,150.0 L1183.5,148.8 L1186.3,147.6 L1189.0,146.4 L1191.8,145.2 L1194.6,144.1 L1197.3,142.9 L1200.1,141.7 L1202.9,140.6 L1205.7,139.4 L1208.4,138.3 L1211.2,137.1 L1214.0,136.0 L1216.8,134.9 L1219.6,133.7 L1222.3,132.6 L1225.1,131.5 L1227.9,130.4 L1230.7,129.3 L1233.5,128.1 L1236.3,127.0 L1239.1,125.9 L1241.8,124.8 L1244.6,123.6 L1247.4,122.5 L1250.2,121.4 L1253.0,120.2 L1255.8,119.1 L1258.6,117.9 L1261.3,116.8 L1264.1,115.6 L1266.9,114.4 L1269.7,113.3 L1272.5,112.1 L1275.2,110.9 L1278.0,109.7 L1280.8,108.4 L1283.5,107.2 L1286.3,106.0 L1289.1,104.7 L1291.8,103.4 L1294.6,102.2 L1297.4,100.9 L1300.1,99.5 L1302.9,98.2 L1305.6,96.9 L1308.4,95.5 L1311.1,94.2 L1313.9,92.8 L1316.7,91.5 L1319.4,90.2 L1322.2,88.9 L1325.0,87.6 L1327.7,86.3 L1330.5,85.1 L1333.3,83.9 L1336.1,82.7 L1338.9,81.6 L1341.8,80.5 L1344.6,79.5 L1347.4,78.5 L1350.3,77.6 L1353.2,76.7 L1356.1,75.9 L1359.0,75.2 L1361.9,74.6 L1364.8,74.0 L1367.7,73.6 L1370.6,73.2 L1373.5,72.9 L1376.4,72.8 L1379.3,72.8 L1382.1,72.9 L1385.0,73.1 L1387.8,73.5 L1390.6,74.0 L1393.4,74.6 L1396.2,75.4 L1398.9,76.4 L1401.6,77.5 L1404.3,78.7 L1407.0,80.0 L1409.6,81.4 L1412.2,83.0 L1414.8,84.6 L1417.3,86.3 L1419.8,88.2 L1422.2,90.1 L1424.6,92.1 L1426.9,94.2 L1429.3,96.3 L1431.5,98.5 L1433.8,100.8 L1435.9,103.1 L1438.0,105.4 L1440.1,107.8 L1442.1,110.2 L1444.1,112.6 L1446.0,115.1 L1447.8,117.5 L1449.6,120.0 L1451.4,122.5 L1453.0,125.0 L1454.6,127.4 L1456.1,129.9 L1457.6,132.3 L1459.0,134.7 L1460.3,137.0 L1461.6,139.3" fill="none" stroke="#8a8a8a" stroke-width="3.4" stroke-dasharray="3.4 5.6"/>
<line x1="1801" y1="847" x2="820.8" y2="550.1" stroke="#8a8a8a" stroke-width="3.3" stroke-dasharray="3.3 5.75"/>
<path d="M807.4,546.0 L826.1,543.0 L821.3,558.8 Z" fill="#8a8a8a"/>
<line x1="1806" y1="847.5" x2="1538.5" y2="531.5" stroke="#8a8a8a" stroke-width="3.3" stroke-dasharray="3.3 5.75"/>
<path d="M1529.5,520.8 L1546.8,528.4 L1534.2,539.1 Z" fill="#8a8a8a"/>
<line x1="1070.5" y1="207" x2="1070.5" y2="1089" stroke="#6f6f6f" stroke-width="3" stroke-dasharray="29.5 11.9 3 11.9"/>
<path d="M1070.5,1104.8 L1061.5,1088.8 L1079.5,1088.8 Z" fill="#6f6f6f"/>
<line x1="1218.3" y1="972.6" x2="1218.3" y2="1089" stroke="#6f6f6f" stroke-width="3" stroke-dasharray="29.5 11.9 3 11.9"/>
<path d="M1218.3,1104.8 L1209.3,1088.8 L1227.3,1088.8 Z" fill="#6f6f6f"/>
<line x1="1280.4" y1="1420.5" x2="1080.5" y2="1120.1" stroke="#6f6f6f" stroke-width="3" stroke-dasharray="29.5 11.9 3 11.9"/>
<path d="M1072.7,1108.4 L1088.6,1117.0 L1074.5,1126.4 Z" fill="#6f6f6f"/>
<line x1="1280.4" y1="1420.5" x2="1220.9" y2="1121.1" stroke="#6f6f6f" stroke-width="3" stroke-dasharray="29.5 11.9 3 11.9"/>
<path d="M1218.2,1107.4 L1229.7,1121.4 L1213.0,1124.7 Z" fill="#6f6f6f"/>
<line x1="731.4" y1="1312.5" x2="488.0" y2="1256.3" stroke="#959595" stroke-width="2.2" stroke-dasharray="22 10.6 2 10.6"/>
<path d="M474.4,1253.2 L492.2,1249.4 L488.7,1264.5 Z" fill="#959595"/>
<line x1="732.4" y1="1311.6" x2="1241.0" y2="908.2" stroke="#959595" stroke-width="2.2" stroke-dasharray="22 10.6 2 10.6"/>
<path d="M1252.0,899.5 L1243.9,915.8 L1234.3,903.7 Z" fill="#959595"/>
<line x1="733" y1="1318" x2="2007.1" y2="571.3" stroke="#959595" stroke-width="2.2" stroke-dasharray="22 10.6 2 10.6"/>
<path d="M2019.2,564.2 L2008.9,579.2 L2001.0,565.9 Z" fill="#959595"/>
<line x1="242.2" y1="1252.5" x2="742.0" y2="1110.6" stroke="#8f8f8f" stroke-width="3.3"/>
<path d="M755.5,1106.8 L741.3,1119.1 L737.0,1103.7 Z" fill="#8f8f8f"/>
<line x1="1339.4" y1="1161.7" x2="1226.1" y2="984.8" stroke="#8f8f8f" stroke-width="3.3"/>
<path d="M1218.5,973.0 L1234.4,983.0 L1220.9,991.6 Z" fill="#8f8f8f"/>
<line x1="1654.3" y1="1158.9" x2="1077.3" y2="217.4" stroke="#8f8f8f" stroke-width="3.3"/>
<path d="M1070.0,205.5 L1085.7,215.8 L1072.1,224.2 Z" fill="#8f8f8f"/>
<rect x="30.25" y="26.45" width="448.5" height="66.1" fill="#fff" stroke="#1e1e1e" stroke-width="2.5"/>
<text x="254.5" y="72.6" text-anchor="middle">Экономические подъемы</text>
<rect x="806.45" y="15.95" width="381.5999999999999" height="74.7" fill="#fff" stroke="#1e1e1e" stroke-width="2.5"/>
<text x="997.2" y="61.3" text-anchor="middle">Экономический цикл</text>
<rect x="24.55" y="475.95" width="448.5" height="64.90000000000003" fill="#fff" stroke="#1e1e1e" stroke-width="2.5"/>
<text x="248.8" y="520" text-anchor="middle">Экономическое развитие</text>
<rect x="1627.65" y="849.45" width="369.29999999999995" height="234.20000000000005" fill="#fff" stroke="#1e1e1e" stroke-width="2.5"/>
<text x="1812.3" y="894.1" text-anchor="middle">Модели полиномов</text>
<text x="1812.3" y="941.8" text-anchor="middle">второй степени</text>
<text x="1812.3" y="989.4" text-anchor="middle">котировок акций</text>
<text x="1812.3" y="1037.1" text-anchor="middle">компании</text>
<rect x="1340.65" y="1162.95" width="285.1999999999998" height="118.89999999999986" fill="#fff" stroke="#1e1e1e" stroke-width="2.5"/>
<text x="1483.2" y="1207.6" text-anchor="middle">Минимальное</text>
<text x="1483.2" y="1254.9" text-anchor="middle">значение</text>
<rect x="1655.55" y="1160.15" width="280.9000000000001" height="121.69999999999982" fill="#fff" stroke="#1e1e1e" stroke-width="2.5"/>
<text x="1796.0" y="1204.8" text-anchor="middle">Максимальное</text>
<text x="1796.0" y="1251.3" text-anchor="middle">значение</text>
<rect x="85.85" y="1253.75" width="320.6" height="114.29999999999995" fill="#fff" stroke="#1e1e1e" stroke-width="2.5"/>
<text x="246.1" y="1298" text-anchor="middle">Временной</text>
<text x="246.1" y="1346" text-anchor="middle">интервал</text>
<rect x="501.45" y="1319.45" width="447.3" height="64.89999999999986" fill="#fff" stroke="#1e1e1e" stroke-width="2.5"/>
<text x="725.1" y="1364.6" text-anchor="middle">Экономические кризисы</text>
<rect x="993.45" y="1420.75" width="594.7" height="121.20000000000005" fill="#fff" stroke="#1e1e1e" stroke-width="2.5"/>
<text x="1290.8" y="1465.7" text-anchor="middle">Время достижения максимального</text>
<text x="1290.8" y="1513.7" text-anchor="middle">и минимального уровней</text>
</svg>
</body></html>
